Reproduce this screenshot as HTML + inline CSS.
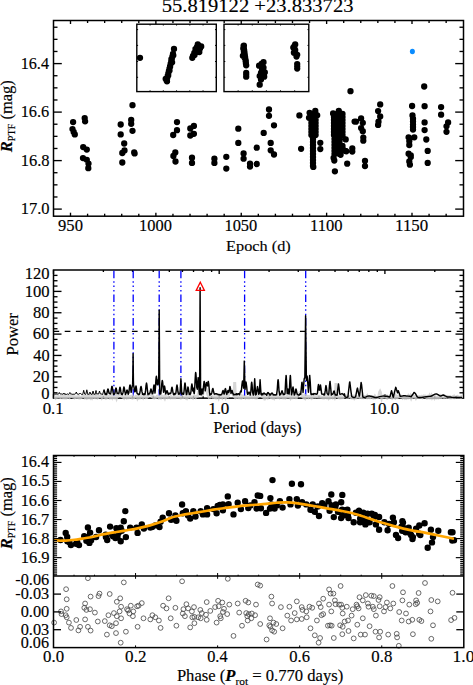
<!DOCTYPE html>
<html><head><meta charset="utf-8"><style>
html,body{margin:0;padding:0;background:#fff;}
svg{display:block;}
text{font-family:"Liberation Serif", serif;fill:#000;stroke:#000;stroke-width:0.15px;}
</style></head><body>
<svg width="473" height="685" viewBox="0 0 473 685">
<rect width="473" height="685" fill="#fff"/>
<path d="M69.95 122.1a3.15 3.15 0 1 0 6.3 0a3.15 3.15 0 1 0 -6.3 0M69.35 129.1a3.15 3.15 0 1 0 6.3 0a3.15 3.15 0 1 0 -6.3 0M70.55 131.9a3.15 3.15 0 1 0 6.3 0a3.15 3.15 0 1 0 -6.3 0M71.65 134.4a3.15 3.15 0 1 0 6.3 0a3.15 3.15 0 1 0 -6.3 0M81.55 118.1a3.15 3.15 0 1 0 6.3 0a3.15 3.15 0 1 0 -6.3 0M81.95 121.3a3.15 3.15 0 1 0 6.3 0a3.15 3.15 0 1 0 -6.3 0M80.05 147.1a3.15 3.15 0 1 0 6.3 0a3.15 3.15 0 1 0 -6.3 0M83.65 149.6a3.15 3.15 0 1 0 6.3 0a3.15 3.15 0 1 0 -6.3 0M79.85 158.1a3.15 3.15 0 1 0 6.3 0a3.15 3.15 0 1 0 -6.3 0M83.65 159.8a3.15 3.15 0 1 0 6.3 0a3.15 3.15 0 1 0 -6.3 0M85.35 163.6a3.15 3.15 0 1 0 6.3 0a3.15 3.15 0 1 0 -6.3 0M85.15 168.2a3.15 3.15 0 1 0 6.3 0a3.15 3.15 0 1 0 -6.3 0M117.55 124.5a3.15 3.15 0 1 0 6.3 0a3.15 3.15 0 1 0 -6.3 0M117.55 134.4a3.15 3.15 0 1 0 6.3 0a3.15 3.15 0 1 0 -6.3 0M121.05 143.5a3.15 3.15 0 1 0 6.3 0a3.15 3.15 0 1 0 -6.3 0M121.35 150.5a3.15 3.15 0 1 0 6.3 0a3.15 3.15 0 1 0 -6.3 0M119.15 153a3.15 3.15 0 1 0 6.3 0a3.15 3.15 0 1 0 -6.3 0M119.15 162.5a3.15 3.15 0 1 0 6.3 0a3.15 3.15 0 1 0 -6.3 0M129.35 105.2a3.15 3.15 0 1 0 6.3 0a3.15 3.15 0 1 0 -6.3 0M128.05 120a3.15 3.15 0 1 0 6.3 0a3.15 3.15 0 1 0 -6.3 0M128.05 123.8a3.15 3.15 0 1 0 6.3 0a3.15 3.15 0 1 0 -6.3 0M129.35 130.8a3.15 3.15 0 1 0 6.3 0a3.15 3.15 0 1 0 -6.3 0M131.05 152.4a3.15 3.15 0 1 0 6.3 0a3.15 3.15 0 1 0 -6.3 0M131.45 153.4a3.15 3.15 0 1 0 6.3 0a3.15 3.15 0 1 0 -6.3 0M173.85 122.1a3.15 3.15 0 1 0 6.3 0a3.15 3.15 0 1 0 -6.3 0M173.85 130.2a3.15 3.15 0 1 0 6.3 0a3.15 3.15 0 1 0 -6.3 0M170.05 135a3.15 3.15 0 1 0 6.3 0a3.15 3.15 0 1 0 -6.3 0M172.15 152.4a3.15 3.15 0 1 0 6.3 0a3.15 3.15 0 1 0 -6.3 0M170.25 156a3.15 3.15 0 1 0 6.3 0a3.15 3.15 0 1 0 -6.3 0M172.35 161.5a3.15 3.15 0 1 0 6.3 0a3.15 3.15 0 1 0 -6.3 0M190.75 125.9a3.15 3.15 0 1 0 6.3 0a3.15 3.15 0 1 0 -6.3 0M187.15 128.5a3.15 3.15 0 1 0 6.3 0a3.15 3.15 0 1 0 -6.3 0M190.75 133.8a3.15 3.15 0 1 0 6.3 0a3.15 3.15 0 1 0 -6.3 0M187.15 135.5a3.15 3.15 0 1 0 6.3 0a3.15 3.15 0 1 0 -6.3 0M188.85 157.7a3.15 3.15 0 1 0 6.3 0a3.15 3.15 0 1 0 -6.3 0M188.85 162.9a3.15 3.15 0 1 0 6.3 0a3.15 3.15 0 1 0 -6.3 0M211.25 158.7a3.15 3.15 0 1 0 6.3 0a3.15 3.15 0 1 0 -6.3 0M211.25 162.9a3.15 3.15 0 1 0 6.3 0a3.15 3.15 0 1 0 -6.3 0M223.15 156.8a3.15 3.15 0 1 0 6.3 0a3.15 3.15 0 1 0 -6.3 0M223.15 168.6a3.15 3.15 0 1 0 6.3 0a3.15 3.15 0 1 0 -6.3 0M235.15 128.7a3.15 3.15 0 1 0 6.3 0a3.15 3.15 0 1 0 -6.3 0M235.15 142.9a3.15 3.15 0 1 0 6.3 0a3.15 3.15 0 1 0 -6.3 0M240.45 153.4a3.15 3.15 0 1 0 6.3 0a3.15 3.15 0 1 0 -6.3 0M240.45 158.7a3.15 3.15 0 1 0 6.3 0a3.15 3.15 0 1 0 -6.3 0M246.85 163.6a3.15 3.15 0 1 0 6.3 0a3.15 3.15 0 1 0 -6.3 0M246.85 166.5a3.15 3.15 0 1 0 6.3 0a3.15 3.15 0 1 0 -6.3 0M253.55 147.7a3.15 3.15 0 1 0 6.3 0a3.15 3.15 0 1 0 -6.3 0M253.55 164a3.15 3.15 0 1 0 6.3 0a3.15 3.15 0 1 0 -6.3 0M260.55 132.9a3.15 3.15 0 1 0 6.3 0a3.15 3.15 0 1 0 -6.3 0M265.85 109.5a3.15 3.15 0 1 0 6.3 0a3.15 3.15 0 1 0 -6.3 0M265.85 115.8a3.15 3.15 0 1 0 6.3 0a3.15 3.15 0 1 0 -6.3 0M270.85 125.3a3.15 3.15 0 1 0 6.3 0a3.15 3.15 0 1 0 -6.3 0M267.55 142.9a3.15 3.15 0 1 0 6.3 0a3.15 3.15 0 1 0 -6.3 0M267.55 150.3a3.15 3.15 0 1 0 6.3 0a3.15 3.15 0 1 0 -6.3 0M270.85 154.5a3.15 3.15 0 1 0 6.3 0a3.15 3.15 0 1 0 -6.3 0M296.25 115.4a3.15 3.15 0 1 0 6.3 0a3.15 3.15 0 1 0 -6.3 0M297.95 148.8a3.15 3.15 0 1 0 6.3 0a3.15 3.15 0 1 0 -6.3 0M306.45 112.8a3.15 3.15 0 1 0 6.3 0a3.15 3.15 0 1 0 -6.3 0M312.15 110.9a3.15 3.15 0 1 0 6.3 0a3.15 3.15 0 1 0 -6.3 0M305.85 117.8a3.15 3.15 0 1 0 6.3 0a3.15 3.15 0 1 0 -6.3 0M314.05 115.3a3.15 3.15 0 1 0 6.3 0a3.15 3.15 0 1 0 -6.3 0M317.15 142.8a3.15 3.15 0 1 0 6.3 0a3.15 3.15 0 1 0 -6.3 0M317.15 149.1a3.15 3.15 0 1 0 6.3 0a3.15 3.15 0 1 0 -6.3 0M310.15 166.9a3.15 3.15 0 1 0 6.3 0a3.15 3.15 0 1 0 -6.3 0M335.65 110.9a3.15 3.15 0 1 0 6.3 0a3.15 3.15 0 1 0 -6.3 0M329.95 113.4a3.15 3.15 0 1 0 6.3 0a3.15 3.15 0 1 0 -6.3 0M342.55 139.4a3.15 3.15 0 1 0 6.3 0a3.15 3.15 0 1 0 -6.3 0M342.55 151a3.15 3.15 0 1 0 6.3 0a3.15 3.15 0 1 0 -6.3 0M337.45 154.8a3.15 3.15 0 1 0 6.3 0a3.15 3.15 0 1 0 -6.3 0M331.15 160.5a3.15 3.15 0 1 0 6.3 0a3.15 3.15 0 1 0 -6.3 0M330.45 158a3.15 3.15 0 1 0 6.3 0a3.15 3.15 0 1 0 -6.3 0M331.75 171.3a3.15 3.15 0 1 0 6.3 0a3.15 3.15 0 1 0 -6.3 0M344.05 163.7a3.15 3.15 0 1 0 6.3 0a3.15 3.15 0 1 0 -6.3 0M349.15 148.5a3.15 3.15 0 1 0 6.3 0a3.15 3.15 0 1 0 -6.3 0M349.15 151.6a3.15 3.15 0 1 0 6.3 0a3.15 3.15 0 1 0 -6.3 0M351.45 121.6a3.15 3.15 0 1 0 6.3 0a3.15 3.15 0 1 0 -6.3 0M343.15 151.3a3.15 3.15 0 1 0 6.3 0a3.15 3.15 0 1 0 -6.3 0M347.35 91.2a3.15 3.15 0 1 0 6.3 0a3.15 3.15 0 1 0 -6.3 0M352.75 121.7a3.15 3.15 0 1 0 6.3 0a3.15 3.15 0 1 0 -6.3 0M357.95 118.5a3.15 3.15 0 1 0 6.3 0a3.15 3.15 0 1 0 -6.3 0M359.65 122.8a3.15 3.15 0 1 0 6.3 0a3.15 3.15 0 1 0 -6.3 0M357.95 128.1a3.15 3.15 0 1 0 6.3 0a3.15 3.15 0 1 0 -6.3 0M359.65 131.2a3.15 3.15 0 1 0 6.3 0a3.15 3.15 0 1 0 -6.3 0M360.15 137.6a3.15 3.15 0 1 0 6.3 0a3.15 3.15 0 1 0 -6.3 0M360.15 140.7a3.15 3.15 0 1 0 6.3 0a3.15 3.15 0 1 0 -6.3 0M361.85 160.8a3.15 3.15 0 1 0 6.3 0a3.15 3.15 0 1 0 -6.3 0M361.85 166.1a3.15 3.15 0 1 0 6.3 0a3.15 3.15 0 1 0 -6.3 0M377.05 104.4a3.15 3.15 0 1 0 6.3 0a3.15 3.15 0 1 0 -6.3 0M374.95 111.1a3.15 3.15 0 1 0 6.3 0a3.15 3.15 0 1 0 -6.3 0M377.05 116.4a3.15 3.15 0 1 0 6.3 0a3.15 3.15 0 1 0 -6.3 0M375.35 121.7a3.15 3.15 0 1 0 6.3 0a3.15 3.15 0 1 0 -6.3 0M374.95 124.9a3.15 3.15 0 1 0 6.3 0a3.15 3.15 0 1 0 -6.3 0M408.95 106a3.15 3.15 0 1 0 6.3 0a3.15 3.15 0 1 0 -6.3 0M409.35 115.4a3.15 3.15 0 1 0 6.3 0a3.15 3.15 0 1 0 -6.3 0M409.85 118.7a3.15 3.15 0 1 0 6.3 0a3.15 3.15 0 1 0 -6.3 0M409.85 121.5a3.15 3.15 0 1 0 6.3 0a3.15 3.15 0 1 0 -6.3 0M409.85 124.5a3.15 3.15 0 1 0 6.3 0a3.15 3.15 0 1 0 -6.3 0M409.85 127a3.15 3.15 0 1 0 6.3 0a3.15 3.15 0 1 0 -6.3 0M409.85 129.6a3.15 3.15 0 1 0 6.3 0a3.15 3.15 0 1 0 -6.3 0M411.15 137.3a3.15 3.15 0 1 0 6.3 0a3.15 3.15 0 1 0 -6.3 0M405.45 137.3a3.15 3.15 0 1 0 6.3 0a3.15 3.15 0 1 0 -6.3 0M406.15 141a3.15 3.15 0 1 0 6.3 0a3.15 3.15 0 1 0 -6.3 0M406.15 145a3.15 3.15 0 1 0 6.3 0a3.15 3.15 0 1 0 -6.3 0M405.45 153.7a3.15 3.15 0 1 0 6.3 0a3.15 3.15 0 1 0 -6.3 0M407.65 157a3.15 3.15 0 1 0 6.3 0a3.15 3.15 0 1 0 -6.3 0M406.75 164.7a3.15 3.15 0 1 0 6.3 0a3.15 3.15 0 1 0 -6.3 0M407.65 155.5a3.15 3.15 0 1 0 6.3 0a3.15 3.15 0 1 0 -6.3 0M406.15 161.4a3.15 3.15 0 1 0 6.3 0a3.15 3.15 0 1 0 -6.3 0M421.05 86.5a3.15 3.15 0 1 0 6.3 0a3.15 3.15 0 1 0 -6.3 0M421.45 106.2a3.15 3.15 0 1 0 6.3 0a3.15 3.15 0 1 0 -6.3 0M421.45 122.4a3.15 3.15 0 1 0 6.3 0a3.15 3.15 0 1 0 -6.3 0M421.45 130.1a3.15 3.15 0 1 0 6.3 0a3.15 3.15 0 1 0 -6.3 0M423.15 139.5a3.15 3.15 0 1 0 6.3 0a3.15 3.15 0 1 0 -6.3 0M424.55 150.9a3.15 3.15 0 1 0 6.3 0a3.15 3.15 0 1 0 -6.3 0M424.55 162.9a3.15 3.15 0 1 0 6.3 0a3.15 3.15 0 1 0 -6.3 0M437.95 107.1a3.15 3.15 0 1 0 6.3 0a3.15 3.15 0 1 0 -6.3 0M437.95 114.7a3.15 3.15 0 1 0 6.3 0a3.15 3.15 0 1 0 -6.3 0M444.95 122.4a3.15 3.15 0 1 0 6.3 0a3.15 3.15 0 1 0 -6.3 0M443.35 126.3a3.15 3.15 0 1 0 6.3 0a3.15 3.15 0 1 0 -6.3 0M443.35 131.8a3.15 3.15 0 1 0 6.3 0a3.15 3.15 0 1 0 -6.3 0M308.25 114a3.15 3.15 0 1 0 6.3 0a3.15 3.15 0 1 0 -6.3 0M308.25 117a3.15 3.15 0 1 0 6.3 0a3.15 3.15 0 1 0 -6.3 0M308.25 120a3.15 3.15 0 1 0 6.3 0a3.15 3.15 0 1 0 -6.3 0M308.25 123a3.15 3.15 0 1 0 6.3 0a3.15 3.15 0 1 0 -6.3 0M308.25 126a3.15 3.15 0 1 0 6.3 0a3.15 3.15 0 1 0 -6.3 0M308.25 129a3.15 3.15 0 1 0 6.3 0a3.15 3.15 0 1 0 -6.3 0M308.25 132a3.15 3.15 0 1 0 6.3 0a3.15 3.15 0 1 0 -6.3 0M308.25 135a3.15 3.15 0 1 0 6.3 0a3.15 3.15 0 1 0 -6.3 0M312.45 114a3.15 3.15 0 1 0 6.3 0a3.15 3.15 0 1 0 -6.3 0M312.45 117a3.15 3.15 0 1 0 6.3 0a3.15 3.15 0 1 0 -6.3 0M312.45 120a3.15 3.15 0 1 0 6.3 0a3.15 3.15 0 1 0 -6.3 0M312.45 123a3.15 3.15 0 1 0 6.3 0a3.15 3.15 0 1 0 -6.3 0M312.45 126a3.15 3.15 0 1 0 6.3 0a3.15 3.15 0 1 0 -6.3 0M312.45 129a3.15 3.15 0 1 0 6.3 0a3.15 3.15 0 1 0 -6.3 0M312.45 132a3.15 3.15 0 1 0 6.3 0a3.15 3.15 0 1 0 -6.3 0M312.45 135a3.15 3.15 0 1 0 6.3 0a3.15 3.15 0 1 0 -6.3 0M309.85 139a3.15 3.15 0 1 0 6.3 0a3.15 3.15 0 1 0 -6.3 0M309.85 142a3.15 3.15 0 1 0 6.3 0a3.15 3.15 0 1 0 -6.3 0M309.85 145a3.15 3.15 0 1 0 6.3 0a3.15 3.15 0 1 0 -6.3 0M309.85 148a3.15 3.15 0 1 0 6.3 0a3.15 3.15 0 1 0 -6.3 0M309.85 151a3.15 3.15 0 1 0 6.3 0a3.15 3.15 0 1 0 -6.3 0M309.85 154a3.15 3.15 0 1 0 6.3 0a3.15 3.15 0 1 0 -6.3 0M309.85 157a3.15 3.15 0 1 0 6.3 0a3.15 3.15 0 1 0 -6.3 0M309.85 160a3.15 3.15 0 1 0 6.3 0a3.15 3.15 0 1 0 -6.3 0M309.85 163a3.15 3.15 0 1 0 6.3 0a3.15 3.15 0 1 0 -6.3 0M309.85 166a3.15 3.15 0 1 0 6.3 0a3.15 3.15 0 1 0 -6.3 0M330.85 114a3.15 3.15 0 1 0 6.3 0a3.15 3.15 0 1 0 -6.3 0M330.85 117a3.15 3.15 0 1 0 6.3 0a3.15 3.15 0 1 0 -6.3 0M330.85 120a3.15 3.15 0 1 0 6.3 0a3.15 3.15 0 1 0 -6.3 0M330.85 123a3.15 3.15 0 1 0 6.3 0a3.15 3.15 0 1 0 -6.3 0M330.85 126a3.15 3.15 0 1 0 6.3 0a3.15 3.15 0 1 0 -6.3 0M330.85 129a3.15 3.15 0 1 0 6.3 0a3.15 3.15 0 1 0 -6.3 0M330.85 132a3.15 3.15 0 1 0 6.3 0a3.15 3.15 0 1 0 -6.3 0M330.85 135a3.15 3.15 0 1 0 6.3 0a3.15 3.15 0 1 0 -6.3 0M335.35 114a3.15 3.15 0 1 0 6.3 0a3.15 3.15 0 1 0 -6.3 0M335.35 117a3.15 3.15 0 1 0 6.3 0a3.15 3.15 0 1 0 -6.3 0M335.35 120a3.15 3.15 0 1 0 6.3 0a3.15 3.15 0 1 0 -6.3 0M335.35 123a3.15 3.15 0 1 0 6.3 0a3.15 3.15 0 1 0 -6.3 0M335.35 126a3.15 3.15 0 1 0 6.3 0a3.15 3.15 0 1 0 -6.3 0M335.35 129a3.15 3.15 0 1 0 6.3 0a3.15 3.15 0 1 0 -6.3 0M335.35 132a3.15 3.15 0 1 0 6.3 0a3.15 3.15 0 1 0 -6.3 0M335.35 135a3.15 3.15 0 1 0 6.3 0a3.15 3.15 0 1 0 -6.3 0M339.35 114a3.15 3.15 0 1 0 6.3 0a3.15 3.15 0 1 0 -6.3 0M339.35 117a3.15 3.15 0 1 0 6.3 0a3.15 3.15 0 1 0 -6.3 0M339.35 120a3.15 3.15 0 1 0 6.3 0a3.15 3.15 0 1 0 -6.3 0M339.35 123a3.15 3.15 0 1 0 6.3 0a3.15 3.15 0 1 0 -6.3 0M339.35 126a3.15 3.15 0 1 0 6.3 0a3.15 3.15 0 1 0 -6.3 0M339.35 129a3.15 3.15 0 1 0 6.3 0a3.15 3.15 0 1 0 -6.3 0M339.35 132a3.15 3.15 0 1 0 6.3 0a3.15 3.15 0 1 0 -6.3 0M339.35 135a3.15 3.15 0 1 0 6.3 0a3.15 3.15 0 1 0 -6.3 0M331.35 139a3.15 3.15 0 1 0 6.3 0a3.15 3.15 0 1 0 -6.3 0M331.35 142a3.15 3.15 0 1 0 6.3 0a3.15 3.15 0 1 0 -6.3 0M331.35 145a3.15 3.15 0 1 0 6.3 0a3.15 3.15 0 1 0 -6.3 0M331.35 148a3.15 3.15 0 1 0 6.3 0a3.15 3.15 0 1 0 -6.3 0M331.35 151a3.15 3.15 0 1 0 6.3 0a3.15 3.15 0 1 0 -6.3 0M331.35 154a3.15 3.15 0 1 0 6.3 0a3.15 3.15 0 1 0 -6.3 0M336.35 139a3.15 3.15 0 1 0 6.3 0a3.15 3.15 0 1 0 -6.3 0M336.35 142a3.15 3.15 0 1 0 6.3 0a3.15 3.15 0 1 0 -6.3 0M336.35 145a3.15 3.15 0 1 0 6.3 0a3.15 3.15 0 1 0 -6.3 0M336.35 148a3.15 3.15 0 1 0 6.3 0a3.15 3.15 0 1 0 -6.3 0M336.35 151a3.15 3.15 0 1 0 6.3 0a3.15 3.15 0 1 0 -6.3 0M336.35 154a3.15 3.15 0 1 0 6.3 0a3.15 3.15 0 1 0 -6.3 0M339.35 146a3.15 3.15 0 1 0 6.3 0a3.15 3.15 0 1 0 -6.3 0M340.35 150a3.15 3.15 0 1 0 6.3 0a3.15 3.15 0 1 0 -6.3 0" fill="#000"/>
<rect x="136.8" y="24.2" width="79.5" height="67.4" fill="#fff" stroke="none"/>
<rect x="224.0" y="24.2" width="84.8" height="67.4" fill="#fff" stroke="none"/>
<rect x="136.8" y="24.2" width="79.5" height="67.4" fill="none" stroke="#000" stroke-width="1.4"/>
<line x1="136.8" y1="29.6" x2="138.1" y2="29.6" stroke="#000" stroke-width="1.0" />
<line x1="216.3" y1="29.6" x2="215" y2="29.6" stroke="#000" stroke-width="1.0" />
<line x1="136.8" y1="45.4" x2="138.1" y2="45.4" stroke="#000" stroke-width="1.0" />
<line x1="216.3" y1="45.4" x2="215" y2="45.4" stroke="#000" stroke-width="1.0" />
<line x1="136.8" y1="61.5" x2="138.1" y2="61.5" stroke="#000" stroke-width="1.0" />
<line x1="216.3" y1="61.5" x2="215" y2="61.5" stroke="#000" stroke-width="1.0" />
<line x1="136.8" y1="77.3" x2="138.1" y2="77.3" stroke="#000" stroke-width="1.0" />
<line x1="216.3" y1="77.3" x2="215" y2="77.3" stroke="#000" stroke-width="1.0" />
<line x1="150.05" y1="24.2" x2="150.05" y2="25.5" stroke="#000" stroke-width="1.0" />
<line x1="150.05" y1="91.6" x2="150.05" y2="90.3" stroke="#000" stroke-width="1.0" />
<line x1="163.3" y1="24.2" x2="163.3" y2="25.5" stroke="#000" stroke-width="1.0" />
<line x1="163.3" y1="91.6" x2="163.3" y2="90.3" stroke="#000" stroke-width="1.0" />
<line x1="176.55" y1="24.2" x2="176.55" y2="25.5" stroke="#000" stroke-width="1.0" />
<line x1="176.55" y1="91.6" x2="176.55" y2="90.3" stroke="#000" stroke-width="1.0" />
<line x1="189.8" y1="24.2" x2="189.8" y2="25.5" stroke="#000" stroke-width="1.0" />
<line x1="189.8" y1="91.6" x2="189.8" y2="90.3" stroke="#000" stroke-width="1.0" />
<line x1="203.05" y1="24.2" x2="203.05" y2="25.5" stroke="#000" stroke-width="1.0" />
<line x1="203.05" y1="91.6" x2="203.05" y2="90.3" stroke="#000" stroke-width="1.0" />
<rect x="224" y="24.2" width="84.8" height="67.4" fill="none" stroke="#000" stroke-width="1.4"/>
<line x1="224" y1="29.6" x2="225.3" y2="29.6" stroke="#000" stroke-width="1.0" />
<line x1="308.8" y1="29.6" x2="307.5" y2="29.6" stroke="#000" stroke-width="1.0" />
<line x1="224" y1="45.4" x2="225.3" y2="45.4" stroke="#000" stroke-width="1.0" />
<line x1="308.8" y1="45.4" x2="307.5" y2="45.4" stroke="#000" stroke-width="1.0" />
<line x1="224" y1="61.5" x2="225.3" y2="61.5" stroke="#000" stroke-width="1.0" />
<line x1="308.8" y1="61.5" x2="307.5" y2="61.5" stroke="#000" stroke-width="1.0" />
<line x1="224" y1="77.3" x2="225.3" y2="77.3" stroke="#000" stroke-width="1.0" />
<line x1="308.8" y1="77.3" x2="307.5" y2="77.3" stroke="#000" stroke-width="1.0" />
<line x1="238.13" y1="24.2" x2="238.13" y2="25.5" stroke="#000" stroke-width="1.0" />
<line x1="238.13" y1="91.6" x2="238.13" y2="90.3" stroke="#000" stroke-width="1.0" />
<line x1="252.27" y1="24.2" x2="252.27" y2="25.5" stroke="#000" stroke-width="1.0" />
<line x1="252.27" y1="91.6" x2="252.27" y2="90.3" stroke="#000" stroke-width="1.0" />
<line x1="266.4" y1="24.2" x2="266.4" y2="25.5" stroke="#000" stroke-width="1.0" />
<line x1="266.4" y1="91.6" x2="266.4" y2="90.3" stroke="#000" stroke-width="1.0" />
<line x1="280.53" y1="24.2" x2="280.53" y2="25.5" stroke="#000" stroke-width="1.0" />
<line x1="280.53" y1="91.6" x2="280.53" y2="90.3" stroke="#000" stroke-width="1.0" />
<line x1="294.67" y1="24.2" x2="294.67" y2="25.5" stroke="#000" stroke-width="1.0" />
<line x1="294.67" y1="91.6" x2="294.67" y2="90.3" stroke="#000" stroke-width="1.0" />
<path d="M136.85 57.8a3.15 3.15 0 1 0 6.3 0a3.15 3.15 0 1 0 -6.3 0M170.85 49a3.15 3.15 0 1 0 6.3 0a3.15 3.15 0 1 0 -6.3 0M170.15 55.3a3.15 3.15 0 1 0 6.3 0a3.15 3.15 0 1 0 -6.3 0M168.25 59.1a3.15 3.15 0 1 0 6.3 0a3.15 3.15 0 1 0 -6.3 0M168.95 62.3a3.15 3.15 0 1 0 6.3 0a3.15 3.15 0 1 0 -6.3 0M166.95 66.7a3.15 3.15 0 1 0 6.3 0a3.15 3.15 0 1 0 -6.3 0M166.35 70.5a3.15 3.15 0 1 0 6.3 0a3.15 3.15 0 1 0 -6.3 0M165.05 75.6a3.15 3.15 0 1 0 6.3 0a3.15 3.15 0 1 0 -6.3 0M162.55 78.8a3.15 3.15 0 1 0 6.3 0a3.15 3.15 0 1 0 -6.3 0M163.85 81.3a3.15 3.15 0 1 0 6.3 0a3.15 3.15 0 1 0 -6.3 0M194.65 44.5a3.15 3.15 0 1 0 6.3 0a3.15 3.15 0 1 0 -6.3 0M198.05 46.4a3.15 3.15 0 1 0 6.3 0a3.15 3.15 0 1 0 -6.3 0M192.35 49a3.15 3.15 0 1 0 6.3 0a3.15 3.15 0 1 0 -6.3 0M196.15 52.1a3.15 3.15 0 1 0 6.3 0a3.15 3.15 0 1 0 -6.3 0M191.15 52.8a3.15 3.15 0 1 0 6.3 0a3.15 3.15 0 1 0 -6.3 0M189.15 57.8a3.15 3.15 0 1 0 6.3 0a3.15 3.15 0 1 0 -6.3 0M169.85 54a3.15 3.15 0 1 0 6.3 0a3.15 3.15 0 1 0 -6.3 0M169.27 56.41a3.15 3.15 0 1 0 6.3 0a3.15 3.15 0 1 0 -6.3 0M168.69 58.82a3.15 3.15 0 1 0 6.3 0a3.15 3.15 0 1 0 -6.3 0M168.1 61.23a3.15 3.15 0 1 0 6.3 0a3.15 3.15 0 1 0 -6.3 0M167.52 63.64a3.15 3.15 0 1 0 6.3 0a3.15 3.15 0 1 0 -6.3 0M166.94 66.05a3.15 3.15 0 1 0 6.3 0a3.15 3.15 0 1 0 -6.3 0M166.36 68.45a3.15 3.15 0 1 0 6.3 0a3.15 3.15 0 1 0 -6.3 0M165.78 70.86a3.15 3.15 0 1 0 6.3 0a3.15 3.15 0 1 0 -6.3 0M165.2 73.27a3.15 3.15 0 1 0 6.3 0a3.15 3.15 0 1 0 -6.3 0M164.61 75.68a3.15 3.15 0 1 0 6.3 0a3.15 3.15 0 1 0 -6.3 0M164.03 78.09a3.15 3.15 0 1 0 6.3 0a3.15 3.15 0 1 0 -6.3 0M163.45 80.5a3.15 3.15 0 1 0 6.3 0a3.15 3.15 0 1 0 -6.3 0M193.85 47a3.15 3.15 0 1 0 6.3 0a3.15 3.15 0 1 0 -6.3 0M194.85 50a3.15 3.15 0 1 0 6.3 0a3.15 3.15 0 1 0 -6.3 0M192.85 51.5a3.15 3.15 0 1 0 6.3 0a3.15 3.15 0 1 0 -6.3 0M191.35 55a3.15 3.15 0 1 0 6.3 0a3.15 3.15 0 1 0 -6.3 0M196.85 48.5a3.15 3.15 0 1 0 6.3 0a3.15 3.15 0 1 0 -6.3 0M189.85 56a3.15 3.15 0 1 0 6.3 0a3.15 3.15 0 1 0 -6.3 0" fill="#000"/>
<path d="M240.75 45.7a3.15 3.15 0 1 0 6.3 0a3.15 3.15 0 1 0 -6.3 0M240.15 48.5a3.15 3.15 0 1 0 6.3 0a3.15 3.15 0 1 0 -6.3 0M240.75 51.4a3.15 3.15 0 1 0 6.3 0a3.15 3.15 0 1 0 -6.3 0M239.75 55.8a3.15 3.15 0 1 0 6.3 0a3.15 3.15 0 1 0 -6.3 0M241.65 58.1a3.15 3.15 0 1 0 6.3 0a3.15 3.15 0 1 0 -6.3 0M242.65 60.9a3.15 3.15 0 1 0 6.3 0a3.15 3.15 0 1 0 -6.3 0M243.05 65.3a3.15 3.15 0 1 0 6.3 0a3.15 3.15 0 1 0 -6.3 0M243.05 72.9a3.15 3.15 0 1 0 6.3 0a3.15 3.15 0 1 0 -6.3 0M243.05 76.7a3.15 3.15 0 1 0 6.3 0a3.15 3.15 0 1 0 -6.3 0M260.35 62.2a3.15 3.15 0 1 0 6.3 0a3.15 3.15 0 1 0 -6.3 0M255.95 65.7a3.15 3.15 0 1 0 6.3 0a3.15 3.15 0 1 0 -6.3 0M260.35 67.6a3.15 3.15 0 1 0 6.3 0a3.15 3.15 0 1 0 -6.3 0M258.85 70.4a3.15 3.15 0 1 0 6.3 0a3.15 3.15 0 1 0 -6.3 0M261.65 72.3a3.15 3.15 0 1 0 6.3 0a3.15 3.15 0 1 0 -6.3 0M256.55 76.1a3.15 3.15 0 1 0 6.3 0a3.15 3.15 0 1 0 -6.3 0M261.05 76.7a3.15 3.15 0 1 0 6.3 0a3.15 3.15 0 1 0 -6.3 0M256.55 84.7a3.15 3.15 0 1 0 6.3 0a3.15 3.15 0 1 0 -6.3 0M292.05 44.4a3.15 3.15 0 1 0 6.3 0a3.15 3.15 0 1 0 -6.3 0M290.15 47.6a3.15 3.15 0 1 0 6.3 0a3.15 3.15 0 1 0 -6.3 0M292.05 50.1a3.15 3.15 0 1 0 6.3 0a3.15 3.15 0 1 0 -6.3 0M290.75 52.7a3.15 3.15 0 1 0 6.3 0a3.15 3.15 0 1 0 -6.3 0M294.05 54.8a3.15 3.15 0 1 0 6.3 0a3.15 3.15 0 1 0 -6.3 0M294.05 64.1a3.15 3.15 0 1 0 6.3 0a3.15 3.15 0 1 0 -6.3 0M294.05 68.5a3.15 3.15 0 1 0 6.3 0a3.15 3.15 0 1 0 -6.3 0M240.45 46a3.15 3.15 0 1 0 6.3 0a3.15 3.15 0 1 0 -6.3 0M240.74 48.14a3.15 3.15 0 1 0 6.3 0a3.15 3.15 0 1 0 -6.3 0M241.03 50.29a3.15 3.15 0 1 0 6.3 0a3.15 3.15 0 1 0 -6.3 0M241.32 52.43a3.15 3.15 0 1 0 6.3 0a3.15 3.15 0 1 0 -6.3 0M241.61 54.58a3.15 3.15 0 1 0 6.3 0a3.15 3.15 0 1 0 -6.3 0M241.89 56.72a3.15 3.15 0 1 0 6.3 0a3.15 3.15 0 1 0 -6.3 0M242.18 58.87a3.15 3.15 0 1 0 6.3 0a3.15 3.15 0 1 0 -6.3 0M242.47 61.01a3.15 3.15 0 1 0 6.3 0a3.15 3.15 0 1 0 -6.3 0M242.76 63.16a3.15 3.15 0 1 0 6.3 0a3.15 3.15 0 1 0 -6.3 0M243.05 65.3a3.15 3.15 0 1 0 6.3 0a3.15 3.15 0 1 0 -6.3 0M243.05 74.8a3.15 3.15 0 1 0 6.3 0a3.15 3.15 0 1 0 -6.3 0M258.35 64a3.15 3.15 0 1 0 6.3 0a3.15 3.15 0 1 0 -6.3 0M258.85 68a3.15 3.15 0 1 0 6.3 0a3.15 3.15 0 1 0 -6.3 0M257.85 73a3.15 3.15 0 1 0 6.3 0a3.15 3.15 0 1 0 -6.3 0M259.35 75a3.15 3.15 0 1 0 6.3 0a3.15 3.15 0 1 0 -6.3 0M257.85 79.5a3.15 3.15 0 1 0 6.3 0a3.15 3.15 0 1 0 -6.3 0M291.35 46a3.15 3.15 0 1 0 6.3 0a3.15 3.15 0 1 0 -6.3 0M291.35 49a3.15 3.15 0 1 0 6.3 0a3.15 3.15 0 1 0 -6.3 0M291.65 51.5a3.15 3.15 0 1 0 6.3 0a3.15 3.15 0 1 0 -6.3 0M292.35 53.5a3.15 3.15 0 1 0 6.3 0a3.15 3.15 0 1 0 -6.3 0M294.05 66.3a3.15 3.15 0 1 0 6.3 0a3.15 3.15 0 1 0 -6.3 0M293.35 56.5a3.15 3.15 0 1 0 6.3 0a3.15 3.15 0 1 0 -6.3 0" fill="#000"/>
<ellipse cx="412.4" cy="51.55" rx="2.5" ry="2.75" fill="#0a8cff"/>
<rect x="53.5" y="20.5" width="410" height="195.7" fill="none" stroke="#000" stroke-width="1.5"/>
<line x1="70.5" y1="216.2" x2="70.5" y2="212.7" stroke="#000" stroke-width="1.35" />
<line x1="70.5" y1="20.5" x2="70.5" y2="24" stroke="#000" stroke-width="1.35" />
<line x1="87.58" y1="216.2" x2="87.58" y2="213.7" stroke="#000" stroke-width="1.35" />
<line x1="87.58" y1="20.5" x2="87.58" y2="23" stroke="#000" stroke-width="1.35" />
<line x1="104.65" y1="216.2" x2="104.65" y2="213.7" stroke="#000" stroke-width="1.35" />
<line x1="104.65" y1="20.5" x2="104.65" y2="23" stroke="#000" stroke-width="1.35" />
<line x1="121.72" y1="216.2" x2="121.72" y2="213.7" stroke="#000" stroke-width="1.35" />
<line x1="121.72" y1="20.5" x2="121.72" y2="23" stroke="#000" stroke-width="1.35" />
<line x1="138.8" y1="216.2" x2="138.8" y2="213.7" stroke="#000" stroke-width="1.35" />
<line x1="138.8" y1="20.5" x2="138.8" y2="23" stroke="#000" stroke-width="1.35" />
<line x1="155.88" y1="216.2" x2="155.88" y2="212.7" stroke="#000" stroke-width="1.35" />
<line x1="155.88" y1="20.5" x2="155.88" y2="24" stroke="#000" stroke-width="1.35" />
<line x1="172.95" y1="216.2" x2="172.95" y2="213.7" stroke="#000" stroke-width="1.35" />
<line x1="172.95" y1="20.5" x2="172.95" y2="23" stroke="#000" stroke-width="1.35" />
<line x1="190.03" y1="216.2" x2="190.03" y2="213.7" stroke="#000" stroke-width="1.35" />
<line x1="190.03" y1="20.5" x2="190.03" y2="23" stroke="#000" stroke-width="1.35" />
<line x1="207.1" y1="216.2" x2="207.1" y2="213.7" stroke="#000" stroke-width="1.35" />
<line x1="207.1" y1="20.5" x2="207.1" y2="23" stroke="#000" stroke-width="1.35" />
<line x1="224.18" y1="216.2" x2="224.18" y2="213.7" stroke="#000" stroke-width="1.35" />
<line x1="224.18" y1="20.5" x2="224.18" y2="23" stroke="#000" stroke-width="1.35" />
<line x1="241.25" y1="216.2" x2="241.25" y2="212.7" stroke="#000" stroke-width="1.35" />
<line x1="241.25" y1="20.5" x2="241.25" y2="24" stroke="#000" stroke-width="1.35" />
<line x1="258.32" y1="216.2" x2="258.32" y2="213.7" stroke="#000" stroke-width="1.35" />
<line x1="258.32" y1="20.5" x2="258.32" y2="23" stroke="#000" stroke-width="1.35" />
<line x1="275.4" y1="216.2" x2="275.4" y2="213.7" stroke="#000" stroke-width="1.35" />
<line x1="275.4" y1="20.5" x2="275.4" y2="23" stroke="#000" stroke-width="1.35" />
<line x1="292.48" y1="216.2" x2="292.48" y2="213.7" stroke="#000" stroke-width="1.35" />
<line x1="292.48" y1="20.5" x2="292.48" y2="23" stroke="#000" stroke-width="1.35" />
<line x1="309.55" y1="216.2" x2="309.55" y2="213.7" stroke="#000" stroke-width="1.35" />
<line x1="309.55" y1="20.5" x2="309.55" y2="23" stroke="#000" stroke-width="1.35" />
<line x1="326.62" y1="216.2" x2="326.62" y2="212.7" stroke="#000" stroke-width="1.35" />
<line x1="326.62" y1="20.5" x2="326.62" y2="24" stroke="#000" stroke-width="1.35" />
<line x1="343.7" y1="216.2" x2="343.7" y2="213.7" stroke="#000" stroke-width="1.35" />
<line x1="343.7" y1="20.5" x2="343.7" y2="23" stroke="#000" stroke-width="1.35" />
<line x1="360.77" y1="216.2" x2="360.77" y2="213.7" stroke="#000" stroke-width="1.35" />
<line x1="360.77" y1="20.5" x2="360.77" y2="23" stroke="#000" stroke-width="1.35" />
<line x1="377.85" y1="216.2" x2="377.85" y2="213.7" stroke="#000" stroke-width="1.35" />
<line x1="377.85" y1="20.5" x2="377.85" y2="23" stroke="#000" stroke-width="1.35" />
<line x1="394.93" y1="216.2" x2="394.93" y2="213.7" stroke="#000" stroke-width="1.35" />
<line x1="394.93" y1="20.5" x2="394.93" y2="23" stroke="#000" stroke-width="1.35" />
<line x1="412" y1="216.2" x2="412" y2="212.7" stroke="#000" stroke-width="1.35" />
<line x1="412" y1="20.5" x2="412" y2="24" stroke="#000" stroke-width="1.35" />
<line x1="429.07" y1="216.2" x2="429.07" y2="213.7" stroke="#000" stroke-width="1.35" />
<line x1="429.07" y1="20.5" x2="429.07" y2="23" stroke="#000" stroke-width="1.35" />
<line x1="446.15" y1="216.2" x2="446.15" y2="213.7" stroke="#000" stroke-width="1.35" />
<line x1="446.15" y1="20.5" x2="446.15" y2="23" stroke="#000" stroke-width="1.35" />
<line x1="53.5" y1="27.23" x2="57.5" y2="27.23" stroke="#000" stroke-width="1.35" />
<line x1="463.5" y1="27.23" x2="459.5" y2="27.23" stroke="#000" stroke-width="1.35" />
<line x1="53.5" y1="39.35" x2="57.5" y2="39.35" stroke="#000" stroke-width="1.35" />
<line x1="463.5" y1="39.35" x2="459.5" y2="39.35" stroke="#000" stroke-width="1.35" />
<line x1="53.5" y1="51.47" x2="57.5" y2="51.47" stroke="#000" stroke-width="1.35" />
<line x1="463.5" y1="51.47" x2="459.5" y2="51.47" stroke="#000" stroke-width="1.35" />
<line x1="53.5" y1="63.6" x2="61.8" y2="63.6" stroke="#000" stroke-width="1.35" />
<line x1="463.5" y1="63.6" x2="455.2" y2="63.6" stroke="#000" stroke-width="1.35" />
<line x1="53.5" y1="75.73" x2="57.5" y2="75.73" stroke="#000" stroke-width="1.35" />
<line x1="463.5" y1="75.73" x2="459.5" y2="75.73" stroke="#000" stroke-width="1.35" />
<line x1="53.5" y1="87.85" x2="57.5" y2="87.85" stroke="#000" stroke-width="1.35" />
<line x1="463.5" y1="87.85" x2="459.5" y2="87.85" stroke="#000" stroke-width="1.35" />
<line x1="53.5" y1="99.98" x2="57.5" y2="99.98" stroke="#000" stroke-width="1.35" />
<line x1="463.5" y1="99.98" x2="459.5" y2="99.98" stroke="#000" stroke-width="1.35" />
<line x1="53.5" y1="112.1" x2="61.8" y2="112.1" stroke="#000" stroke-width="1.35" />
<line x1="463.5" y1="112.1" x2="455.2" y2="112.1" stroke="#000" stroke-width="1.35" />
<line x1="53.5" y1="124.22" x2="57.5" y2="124.22" stroke="#000" stroke-width="1.35" />
<line x1="463.5" y1="124.22" x2="459.5" y2="124.22" stroke="#000" stroke-width="1.35" />
<line x1="53.5" y1="136.35" x2="57.5" y2="136.35" stroke="#000" stroke-width="1.35" />
<line x1="463.5" y1="136.35" x2="459.5" y2="136.35" stroke="#000" stroke-width="1.35" />
<line x1="53.5" y1="148.48" x2="57.5" y2="148.48" stroke="#000" stroke-width="1.35" />
<line x1="463.5" y1="148.48" x2="459.5" y2="148.48" stroke="#000" stroke-width="1.35" />
<line x1="53.5" y1="160.6" x2="61.8" y2="160.6" stroke="#000" stroke-width="1.35" />
<line x1="463.5" y1="160.6" x2="455.2" y2="160.6" stroke="#000" stroke-width="1.35" />
<line x1="53.5" y1="172.72" x2="57.5" y2="172.72" stroke="#000" stroke-width="1.35" />
<line x1="463.5" y1="172.72" x2="459.5" y2="172.72" stroke="#000" stroke-width="1.35" />
<line x1="53.5" y1="184.85" x2="57.5" y2="184.85" stroke="#000" stroke-width="1.35" />
<line x1="463.5" y1="184.85" x2="459.5" y2="184.85" stroke="#000" stroke-width="1.35" />
<line x1="53.5" y1="196.98" x2="57.5" y2="196.98" stroke="#000" stroke-width="1.35" />
<line x1="463.5" y1="196.98" x2="459.5" y2="196.98" stroke="#000" stroke-width="1.35" />
<line x1="53.5" y1="209.1" x2="61.8" y2="209.1" stroke="#000" stroke-width="1.35" />
<line x1="463.5" y1="209.1" x2="455.2" y2="209.1" stroke="#000" stroke-width="1.35" />
<rect x="53.5" y="270" width="410" height="128.15" fill="none" stroke="#000" stroke-width="1.5"/>
<line x1="53.5" y1="392.81" x2="57.5" y2="392.81" stroke="#000" stroke-width="1.35" />
<line x1="463.5" y1="392.81" x2="459.5" y2="392.81" stroke="#000" stroke-width="1.35" />
<line x1="53.5" y1="387.47" x2="57.5" y2="387.47" stroke="#000" stroke-width="1.35" />
<line x1="463.5" y1="387.47" x2="459.5" y2="387.47" stroke="#000" stroke-width="1.35" />
<line x1="53.5" y1="382.14" x2="57.5" y2="382.14" stroke="#000" stroke-width="1.35" />
<line x1="463.5" y1="382.14" x2="459.5" y2="382.14" stroke="#000" stroke-width="1.35" />
<line x1="53.5" y1="376.8" x2="61.5" y2="376.8" stroke="#000" stroke-width="1.35" />
<line x1="463.5" y1="376.8" x2="455.5" y2="376.8" stroke="#000" stroke-width="1.35" />
<line x1="53.5" y1="371.46" x2="57.5" y2="371.46" stroke="#000" stroke-width="1.35" />
<line x1="463.5" y1="371.46" x2="459.5" y2="371.46" stroke="#000" stroke-width="1.35" />
<line x1="53.5" y1="366.12" x2="57.5" y2="366.12" stroke="#000" stroke-width="1.35" />
<line x1="463.5" y1="366.12" x2="459.5" y2="366.12" stroke="#000" stroke-width="1.35" />
<line x1="53.5" y1="360.79" x2="57.5" y2="360.79" stroke="#000" stroke-width="1.35" />
<line x1="463.5" y1="360.79" x2="459.5" y2="360.79" stroke="#000" stroke-width="1.35" />
<line x1="53.5" y1="355.45" x2="61.5" y2="355.45" stroke="#000" stroke-width="1.35" />
<line x1="463.5" y1="355.45" x2="455.5" y2="355.45" stroke="#000" stroke-width="1.35" />
<line x1="53.5" y1="350.11" x2="57.5" y2="350.11" stroke="#000" stroke-width="1.35" />
<line x1="463.5" y1="350.11" x2="459.5" y2="350.11" stroke="#000" stroke-width="1.35" />
<line x1="53.5" y1="344.77" x2="57.5" y2="344.77" stroke="#000" stroke-width="1.35" />
<line x1="463.5" y1="344.77" x2="459.5" y2="344.77" stroke="#000" stroke-width="1.35" />
<line x1="53.5" y1="339.44" x2="57.5" y2="339.44" stroke="#000" stroke-width="1.35" />
<line x1="463.5" y1="339.44" x2="459.5" y2="339.44" stroke="#000" stroke-width="1.35" />
<line x1="53.5" y1="334.1" x2="61.5" y2="334.1" stroke="#000" stroke-width="1.35" />
<line x1="463.5" y1="334.1" x2="455.5" y2="334.1" stroke="#000" stroke-width="1.35" />
<line x1="53.5" y1="328.76" x2="57.5" y2="328.76" stroke="#000" stroke-width="1.35" />
<line x1="463.5" y1="328.76" x2="459.5" y2="328.76" stroke="#000" stroke-width="1.35" />
<line x1="53.5" y1="323.42" x2="57.5" y2="323.42" stroke="#000" stroke-width="1.35" />
<line x1="463.5" y1="323.42" x2="459.5" y2="323.42" stroke="#000" stroke-width="1.35" />
<line x1="53.5" y1="318.09" x2="57.5" y2="318.09" stroke="#000" stroke-width="1.35" />
<line x1="463.5" y1="318.09" x2="459.5" y2="318.09" stroke="#000" stroke-width="1.35" />
<line x1="53.5" y1="312.75" x2="61.5" y2="312.75" stroke="#000" stroke-width="1.35" />
<line x1="463.5" y1="312.75" x2="455.5" y2="312.75" stroke="#000" stroke-width="1.35" />
<line x1="53.5" y1="307.41" x2="57.5" y2="307.41" stroke="#000" stroke-width="1.35" />
<line x1="463.5" y1="307.41" x2="459.5" y2="307.41" stroke="#000" stroke-width="1.35" />
<line x1="53.5" y1="302.07" x2="57.5" y2="302.07" stroke="#000" stroke-width="1.35" />
<line x1="463.5" y1="302.07" x2="459.5" y2="302.07" stroke="#000" stroke-width="1.35" />
<line x1="53.5" y1="296.74" x2="57.5" y2="296.74" stroke="#000" stroke-width="1.35" />
<line x1="463.5" y1="296.74" x2="459.5" y2="296.74" stroke="#000" stroke-width="1.35" />
<line x1="53.5" y1="291.4" x2="61.5" y2="291.4" stroke="#000" stroke-width="1.35" />
<line x1="463.5" y1="291.4" x2="455.5" y2="291.4" stroke="#000" stroke-width="1.35" />
<line x1="53.5" y1="286.06" x2="57.5" y2="286.06" stroke="#000" stroke-width="1.35" />
<line x1="463.5" y1="286.06" x2="459.5" y2="286.06" stroke="#000" stroke-width="1.35" />
<line x1="53.5" y1="280.73" x2="57.5" y2="280.73" stroke="#000" stroke-width="1.35" />
<line x1="463.5" y1="280.73" x2="459.5" y2="280.73" stroke="#000" stroke-width="1.35" />
<line x1="53.5" y1="275.39" x2="57.5" y2="275.39" stroke="#000" stroke-width="1.35" />
<line x1="463.5" y1="275.39" x2="459.5" y2="275.39" stroke="#000" stroke-width="1.35" />
<line x1="53.5" y1="398.15" x2="53.5" y2="394.15" stroke="#000" stroke-width="1.35" />
<line x1="53.5" y1="270" x2="53.5" y2="274" stroke="#000" stroke-width="1.35" />
<line x1="103.38" y1="398.15" x2="103.38" y2="396.15" stroke="#000" stroke-width="1.35" />
<line x1="103.38" y1="270" x2="103.38" y2="272" stroke="#000" stroke-width="1.35" />
<line x1="132.56" y1="398.15" x2="132.56" y2="396.15" stroke="#000" stroke-width="1.35" />
<line x1="132.56" y1="270" x2="132.56" y2="272" stroke="#000" stroke-width="1.35" />
<line x1="153.26" y1="398.15" x2="153.26" y2="396.15" stroke="#000" stroke-width="1.35" />
<line x1="153.26" y1="270" x2="153.26" y2="272" stroke="#000" stroke-width="1.35" />
<line x1="169.32" y1="398.15" x2="169.32" y2="396.15" stroke="#000" stroke-width="1.35" />
<line x1="169.32" y1="270" x2="169.32" y2="272" stroke="#000" stroke-width="1.35" />
<line x1="182.44" y1="398.15" x2="182.44" y2="396.15" stroke="#000" stroke-width="1.35" />
<line x1="182.44" y1="270" x2="182.44" y2="272" stroke="#000" stroke-width="1.35" />
<line x1="193.53" y1="398.15" x2="193.53" y2="396.15" stroke="#000" stroke-width="1.35" />
<line x1="193.53" y1="270" x2="193.53" y2="272" stroke="#000" stroke-width="1.35" />
<line x1="203.14" y1="398.15" x2="203.14" y2="396.15" stroke="#000" stroke-width="1.35" />
<line x1="203.14" y1="270" x2="203.14" y2="272" stroke="#000" stroke-width="1.35" />
<line x1="211.62" y1="398.15" x2="211.62" y2="396.15" stroke="#000" stroke-width="1.35" />
<line x1="211.62" y1="270" x2="211.62" y2="272" stroke="#000" stroke-width="1.35" />
<line x1="219.2" y1="398.15" x2="219.2" y2="394.15" stroke="#000" stroke-width="1.35" />
<line x1="219.2" y1="270" x2="219.2" y2="274" stroke="#000" stroke-width="1.35" />
<line x1="269.08" y1="398.15" x2="269.08" y2="396.15" stroke="#000" stroke-width="1.35" />
<line x1="269.08" y1="270" x2="269.08" y2="272" stroke="#000" stroke-width="1.35" />
<line x1="298.26" y1="398.15" x2="298.26" y2="396.15" stroke="#000" stroke-width="1.35" />
<line x1="298.26" y1="270" x2="298.26" y2="272" stroke="#000" stroke-width="1.35" />
<line x1="318.96" y1="398.15" x2="318.96" y2="396.15" stroke="#000" stroke-width="1.35" />
<line x1="318.96" y1="270" x2="318.96" y2="272" stroke="#000" stroke-width="1.35" />
<line x1="335.02" y1="398.15" x2="335.02" y2="396.15" stroke="#000" stroke-width="1.35" />
<line x1="335.02" y1="270" x2="335.02" y2="272" stroke="#000" stroke-width="1.35" />
<line x1="348.14" y1="398.15" x2="348.14" y2="396.15" stroke="#000" stroke-width="1.35" />
<line x1="348.14" y1="270" x2="348.14" y2="272" stroke="#000" stroke-width="1.35" />
<line x1="359.23" y1="398.15" x2="359.23" y2="396.15" stroke="#000" stroke-width="1.35" />
<line x1="359.23" y1="270" x2="359.23" y2="272" stroke="#000" stroke-width="1.35" />
<line x1="368.84" y1="398.15" x2="368.84" y2="396.15" stroke="#000" stroke-width="1.35" />
<line x1="368.84" y1="270" x2="368.84" y2="272" stroke="#000" stroke-width="1.35" />
<line x1="377.32" y1="398.15" x2="377.32" y2="396.15" stroke="#000" stroke-width="1.35" />
<line x1="377.32" y1="270" x2="377.32" y2="272" stroke="#000" stroke-width="1.35" />
<line x1="384.9" y1="398.15" x2="384.9" y2="394.15" stroke="#000" stroke-width="1.35" />
<line x1="384.9" y1="270" x2="384.9" y2="274" stroke="#000" stroke-width="1.35" />
<line x1="434.78" y1="398.15" x2="434.78" y2="396.15" stroke="#000" stroke-width="1.35" />
<line x1="434.78" y1="270" x2="434.78" y2="272" stroke="#000" stroke-width="1.35" />
<line x1="113.9" y1="270.7" x2="113.9" y2="396" stroke="#0000ff" stroke-width="1.3" stroke-dasharray="7.6 2.9 1.5 2.9 1.5 2.9 1.5 2.9"/>
<line x1="133.2" y1="270.7" x2="133.2" y2="396" stroke="#0000ff" stroke-width="1.3" stroke-dasharray="7.6 2.9 1.5 2.9 1.5 2.9 1.5 2.9"/>
<line x1="159.2" y1="270.7" x2="159.2" y2="396" stroke="#0000ff" stroke-width="1.3" stroke-dasharray="7.6 2.9 1.5 2.9 1.5 2.9 1.5 2.9"/>
<line x1="180.9" y1="270.7" x2="180.9" y2="396" stroke="#0000ff" stroke-width="1.3" stroke-dasharray="7.6 2.9 1.5 2.9 1.5 2.9 1.5 2.9"/>
<line x1="244.6" y1="270.7" x2="244.6" y2="396" stroke="#0000ff" stroke-width="1.3" stroke-dasharray="7.6 2.9 1.5 2.9 1.5 2.9 1.5 2.9"/>
<line x1="305.7" y1="270.7" x2="305.7" y2="396" stroke="#0000ff" stroke-width="1.3" stroke-dasharray="7.6 2.9 1.5 2.9 1.5 2.9 1.5 2.9"/>
<polyline points="54.2,396.9 54.9,397.12 55.6,397.85 56.3,396.93 57,397.02 57.7,397.17 58.4,396.37 59.1,397.02 59.8,397.26 60.5,397.59 61.2,396.19 61.9,396.61 62.6,396.18 63.3,397.62 64,397.39 64.7,396.08 65.4,397.96 66.1,397.93 66.8,397.31 67.5,397.23 68.2,396.31 68.9,396.03 69.6,397.06 70.3,396.12 71,396.38 71.7,396.48 72.4,396.06 73.1,396.93 73.8,396.88 74.5,397.68 75.2,397.04 75.9,397.28 76.6,397 77.3,397.32 78,396.91 78.7,396.56 79.4,398 80.1,397.99 80.8,397.68 81.5,397.42 82.2,396.63 82.9,396.46 83.6,396.58 84.3,396.14 85,397.53 85.7,396.8 86.4,397.69 87.1,396.77 87.8,397.92 88.5,397.69 89.2,396 89.9,396.42 90.6,397.82 91.3,396.94 92,397.96 92.7,396.79 93.4,396.15 94.1,397.26 94.8,397.56 95.5,396.54 96.2,396.17 96.9,396.67 97.6,397.93 98.3,397.52 99,396.24 99.7,396.49 100.4,396.2 101.1,396.12 101.8,397.59 102.5,396.36 103.2,397.12 103.9,396.89 104.6,396.38 105.3,397.46 106,396.26 106.7,397.29 107.4,396.23 108.1,396.84 108.8,396.43 109.5,396.54 110.2,397.94 110.9,397.61 111.6,396.61 112.3,397.77 113,396.42 113.7,396.79 114.4,397.71 115.1,397.28 115.8,396.2 116.5,397.98 117,396.43 117.2,396.52 117.9,396.38 118.6,395.34 119.3,394.39 120,394 120.7,394.39 121.4,395.34 122.1,396.38 122.8,396.97 123,396.74 123.5,396.91 124.2,397.92 124.9,396.97 125.6,397.15 126.3,397.73 127,396.37 127.7,396.31 128.4,397.82 129.1,397.64 129.8,396.5 130.5,396.38 131.2,397.48 131.9,397.88 132.6,396.39 133.3,397.9 134,397.76 134.7,397.21 135.4,396.84 136.1,396.21 136.8,396.08 137.5,397.93 138.2,396.48 138.9,397.41 139.6,396.51 140.3,397.65 141,397.19 141.7,396.59 142.4,396.35 143.1,397.44 143.8,396.14 144.5,396.46 145.2,397.12 145.9,397.7 146.6,397.23 147,396.56 147.3,396.91 148,396.12 148.7,394.89 149.4,393.83 150,393.5 150.1,393.51 150.8,394.08 151.5,395.25 152.2,396.42 152.9,396.26 153,396.72 153.6,397.78 154.3,397.96 155,397.31 155.7,397.38 156.4,397.17 157.1,396.28 157.8,396.07 158.5,396.04 159.2,397.82 159.9,397.4 160.6,397.93 161.3,396.04 162,397.27 162.7,396.96 163.4,397.46 164.1,396.64 164.8,398 165.5,396.15 166.2,397.09 166.9,397.47 167.6,397.8 168.3,397.47 169,397.41 169.7,397.59 170.4,397.83 171.1,396.7 171.8,397.37 172.5,397.8 173.2,397.74 173.9,396.83 174.6,397.58 175.3,397.73 176,397.15 176.7,397.25 177.4,396.76 178.1,397.17 178.8,397.22 179.5,396.16 180.2,397.28 180.9,397.99 181.6,397.76 182.3,397.46 183,396.78 183.7,397.47 184.4,397.16 185.1,396.88 185.8,397.68 186.5,396.17 187.2,397.5 187.9,396.06 188.6,397.2 189.3,396.96 190,396.46 190.7,397.4 191.4,396.99 192.1,397.23 192.8,397.84 193.5,396.51 194.2,396.02 194.9,396.6 195.6,397.36 196.3,396.41 197,396.34 197.7,396.04 198.4,393.64 199.1,391.05 199.8,389.58 200,389.5 200.5,390 201.2,392.09 201.9,394.78 202.6,394.41 203,392.99 203.3,391.88 204,389.46 204.7,387.86 205.2,387.5 205.4,387.56 206.1,388.64 206.8,390.78 207.5,393.36 208.2,395.61 208.9,396.87 209.2,396.55 209.6,396.34 210.3,396.9 211,396.55 211.7,396.43 212.4,396.83 213.1,397.25 213.8,396.99 214.5,396.63 215.2,397.68 215.9,397.96 216.6,396.9 217.3,396.15 218,396.06 218.7,397.75 219.4,396.08 220.1,397.42 220.8,397.14 221.5,396.62 222.2,397.58 222.9,396.04 223.6,396.27 224.3,396.91 225,396.05 225.7,397.66 226.4,396.47 227,396.28 227.1,396.09 227.8,396.48 228.5,395.33 229.2,393.88 229.9,392.55 230.6,391.73 231,391.6 231.3,391.67 232,392.39 232.7,393.67 233.4,395.13 234.1,396.02 234.7,382 234.8,384.5 235,389.5 235.3,396.54 235.5,396.69 236.2,397.39 236.9,397.04 237.6,397.23 238.3,397.51 239,396.79 239.7,397.58 240.4,397.81 241.1,396.17 241.8,397.87 242.5,397.44 243.2,396.26 243.9,396.91 244.6,397.25 245.3,397.82 246,396.75 246.7,397.14 247.4,397.76 248.1,397.59 248.8,397.89 249.5,396.93 250.2,397.3 250.9,396.41 251.6,397.44 252.3,397.64 253,397.28 253.7,397.44 254.4,396.43 255.1,397.8 255.8,397.96 256.5,397.95 257,397.07 257.2,396.96 257.9,396.18 258.6,394.79 259.3,393.51 260,393 260.7,393.51 261.4,394.79 262.1,396.18 262.8,396.96 263,396.97 263.5,396.06 264.2,397.62 264.9,396.13 265.6,397.6 266.3,396.35 267,396.67 267.7,397.58 268.4,396.28 269.1,396.3 269.8,397.03 270.5,397.45 271.2,397.68 271.9,397.38 272.6,397.89 273.3,396.99 274,397.9 274.7,396.17 275.4,396.44 276.1,397.05 276.8,396.58 277.5,397.46 278.2,397.28 278.9,397.05 279.6,397.69 280.3,397.12 281,396.62 281.7,396.76 282.4,397.69 283.1,397.8 283.8,396.42 284.5,397.7 285.2,397.94 285.9,397.05 286.6,397.15 287.3,396.4 288,397.07 288.7,397.01 289.4,397.21 290.1,396.06 290.8,397.94 291.5,397.03 292.2,396.8 292.9,397.6 293.6,397.13 294.3,396.98 295,397.38 295.7,396.13 296.4,397.08 297,396.83 297.1,396.99 297.8,396.26 298.5,394.75 299.2,393.24 299.9,392.51 300,392.5 300.6,392.93 301.3,394.28 302,395.88 302.7,396.63 303,396.38 303.4,397.24 304.1,397.85 304.8,396.26 305.5,397.56 306.2,396.05 306.9,396.39 307.6,396.45 308.3,397.37 309,396.64 309.7,396.71 310.4,397.24 311.1,396.21 311.8,397.46 312.5,396.25 313.2,397.02 313.9,396.5 314.6,396.4 315.3,397.06 316,396.87 316.7,396.75 317.4,396.83 318.1,397.06 318.8,396.32 319.5,396.41 320.2,397.26 320.9,397.28 321.6,397.06 322.3,397.7 323,397.22 323.7,397.71 324.4,396.47 325.1,397.48 325.8,397.62 326.5,397.81 327.2,396.63 327.9,396.63 328.6,397.85 329.3,396.44 330,398 330.7,397.78 331.4,396.27 332.1,396.48 332.8,397.45 333.5,396.52 334.2,396.19 334.9,397.66 335.3,396.84 335.6,391 336,383 336.3,389 336.7,397 337,396.04 337.7,396.4 338.4,397.36 339.1,397.82 339.8,397.94 340.5,396.23 341.2,397.01 341.9,397.52 342.6,397.01 343.3,397.37 344,396.38 344.7,396.14 345.4,396.21 346.1,396.07 346.8,397.1 347.5,397.03 348.2,397.14 348.9,396.29 349.6,396.37 350.3,396.41 351,397.68 351.7,397.98 352.4,397.85 353.1,396.19 353.8,396.12 354.5,397.9 355.2,396.92 355.9,397.53 356.6,396.65 357.3,396.93 358,397.03 358.7,396.86 359.4,397.2 360.1,396.03 360.8,397.4 361.5,397.69 362.2,396.36 362.9,396.91 363.6,397.48 364.3,396.81 365,396.39 365.7,396.33 366.4,397.03 367.1,396.03 367.8,397.79 368.5,397.6 369.2,397.41 369.9,397.72 370.6,397.26 371.3,396.81 372,397.2 372.7,397.01 373.4,397.97 374.1,397.61 374.8,396.52 375.5,397.82 376.2,397.49 376.9,397.56 377.6,397.63 378.3,396.81 378.5,397.79 379,395.62 379.7,392.03 380,391.5 380.4,392.41 381.1,396.09 381.5,397.45 381.8,396.14 382.5,396.68 383.2,396.94 383.9,396.02 384.6,396.71 385.3,397.28 386,397.25 386.7,396.46 387.4,397.89 388.1,397.33 388.8,396.68 389.5,397.32 390.2,397.14 390.9,397.07 391.6,396.78 392.3,398 393,397.28 393.7,397.4 394.4,397.52 395.1,397.96 395.8,396.05 396.5,397.23 397.2,397.48 397.9,396.51 398.6,396.8 399.3,396.1 400,396.39 400.7,396.75 401.4,396.2 402.1,396.5 402.8,397.81 403.5,397.1 404.2,397.02 404.9,397.93 405.6,397.14 406.3,397.99 407,397.28 407.7,397.62 408.4,396.15 409.1,397.2 409.8,397.52 410.5,396.09 411.2,397.86 411.9,396.32 412.6,396.94 413.3,396.34 414,396.99 414.7,397.22 415.4,396.12 416.1,397.89 416.8,396.84 417.5,397.05 418.2,397.2 418.9,396.73 419.6,396.57 420.3,397.31 421,397.12 421.7,396.57 422.4,397.43 423.1,396.59 423.8,396.03 424.5,396.49 425.2,396.09 425.9,396.31 426.6,397.51 427.3,396.78 428,397.8 428.7,397.5 429.4,396.1 430.1,397.98 430.8,397.89 431.5,396.15 432.2,397.81 432.9,396.86 433.6,396.96 434.3,397.95 435,396.49 435.7,397.05 436.4,397.87 437.1,397.45 437.8,396.94 438.5,397.96 439.2,397.63 439.9,397.21 440.6,396.23 441.3,397.25 442,396.91 442.7,396.41 443.4,396.1 444.1,397.06 444.8,396.25 445.5,396.89 446.2,397.34 446.9,396.91 447.6,396.52 448.3,397.16 449,396.84 449.7,397.56 450.4,397.06 451.1,398 451.8,397.91 452.5,397.47 453.2,396.48 453.9,396.23 454.6,397.79 455.3,397.57 456,397.25 456.7,396.72 457.4,396.54 458.1,397.37 458.8,397.13 459.5,397.18 460.2,397.27 460.9,397.51 461.6,396.38 462.3,396.5" fill="none" stroke="#cccccc" stroke-width="3" stroke-opacity="0.8"/>
<polyline points="54.2,394.08 55.1,393.96 56,394.31 56.9,393.9 57.8,394.23 58.4,394.11 58.7,393.63 59.3,392.5 59.6,393.07 60.2,394.15 60.5,393.9 61.4,393.91 62.3,394.15 63.1,394.2 63.2,393.94 64,393 64.1,393.13 64.9,394.51 65,394.25 65.9,394.13 66.8,394.53 67.7,393.88 68.6,394.45 69,394.05 69.5,393.26 69.9,392.5 70.4,393.44 70.8,394.2 71.3,393.98 72.2,394.26 73.1,394.3 74,394.11 74.9,394.23 75.4,393.89 75.8,393.22 76.3,392 76.7,392.98 77.2,394.15 77.6,394.07 78.5,394.26 79.1,394.17 79.4,393.8 80,393 80.3,393.4 80.9,394.02 81.2,394.25 82.1,394.22 82.8,394.46 83,393.33 83.7,390.3 83.9,391.17 84.6,393.93 84.8,394.14 85.7,394.38 85.9,393.96 86.6,390.78 86.8,389.8 87.5,393.22 87.7,394.39 88.4,394.25 89.1,394.46 89.3,393.71 90,392 90.2,392.49 90.9,394.26 91.1,394.17 92,394.44 92.1,394.51 92.9,391.36 93,391 93.8,393.84 93.9,394.34 94.7,394.3 95.1,394.55 95.6,392.14 96,390.5 96.5,392.56 96.9,394.32 97.4,393.87 98.3,394.17 98.6,393.97 99.2,392.07 99.5,391 100.1,393.13 100.4,393.94 101,394.02 101.9,394.12 102.75,394.46 102.8,393.91 103.7,390.57 104,390" fill="none" stroke="#000" stroke-width="1.0" stroke-linejoin="round"/>
<polyline points="103.7,390.57 104,390 104.6,391.97 105.05,393.94 105.25,394.48 105.5,393.55 105.95,393.76 106.4,393.67 106.62,394.51 106.85,393.58 107.3,391.52 107.75,389.39 108,389 108.2,389.25 108.65,391.24 109.1,393.43 109.38,393.52 109.55,393.11 110,393.77 110.45,393.69 110.5,394.01 110.9,392.64 111.35,389.31 111.8,386.63 112,386.3 112.25,386.81 112.7,389.7 113.15,392.92 113.5,394.35 113.6,394.5 114.05,394.38 114.5,393.73 114.62,393.74 114.95,393.12 115.4,390.36 115.85,388.17 116,388 116.3,388.67 116.75,391.37 117.2,393.64 117.38,393.18 117.65,393.1 118.1,393.34 118.55,393.26 118.62,393.68 119,392.76 119.45,389.58 119.9,387.39 120,387.3 120.35,388.3 120.8,391.44 121.25,393.68 121.38,393.3 121.7,394.46 122.15,394.69 122.6,393.85 122.62,393.87 123.05,392.4 123.5,389.02 123.95,387.02 124,387 124.4,388.34 124.85,391.7 125.3,393.14 125.38,394.62 125.75,393.95 126.2,392.78 126.65,390.71 127,390 127.1,390.06 127.55,391.58 128,393.53 128.25,394.21 128.45,393.52 128.5,393.69 128.9,392.43 129.35,388.52 129.8,385.38 130,385 130.25,385.6 130.5,387.23 130.7,388.98 131.15,392.32 131.5,390.45 131.6,389.84 132.05,387.06 132.5,384.85 132.65,384.38 132.95,367.17 133,362.71 133.1,353.8 133.4,380.53 133.55,385.05 133.85,386.49 134.3,389.21 134.75,391.84 135.2,391.63 135.5,388.73 135.65,387.43 136,386 136.1,386.12 136.55,389.21 137,393.15 137.25,393.41 137.45,393.43 137.9,394.1 138.35,394.54 138.8,394.44 139.25,393.87 139.5,394.14 139.7,393.58 140.15,390.93 140.6,387.64 141,386.4 141.05,386.42 141.5,388.27 141.95,391.68 142.4,393.39 142.5,394.36 142.85,393.63 143.3,394.38 143.75,394.65 144.2,393.73 144.65,393.74 145,394.61 145.1,393.78 145.55,390.67 146,385.73 146.45,383.03 146.5,383 146.9,384.8 147.35,389.58 147.8,393.43 148,394.67 148.25,394.15 148.7,393.66 149.15,393.98 149.6,393.31 149.62,393.12 150.05,392.83 150.5,390.43 150.95,389.02 151,389 151.4,389.95 151.85,392.34 152.3,393.86 152.38,393.44 152.75,393.5 153.2,391.34 153.65,386.61 154,385 154.1,385.14 154.55,388.62 154.78,391.14 155,393.05 155.25,390.44 155.45,387.41 155.9,380.1 156.12,377.56 156.35,376.34 156.4,376.3 156.8,378.8 157.25,384.8 157.7,380.86 158,380 158.03,380.01 158.15,380.22 158.6,383.23 158.7,384.26 159.05,335.31 159.2,310.2 159.5,360.42 159.7,393.6 159.88,393.62 159.95,393.93 160.4,393.99 160.68,393.9 160.85,393.27 161.3,389.58 161.75,383.94 162.2,380.62 162.3,380.5 162.65,381.98 163.1,387.04 163.25,388.96 163.55,392.22 163.93,389.41 164,388.73 164.45,386.03 164.5,386 164.9,387.83 165.35,392.07 165.75,393.95 165.8,393.86 166.25,392.79 166.7,391.13 167,390.7 167.15,390.81 167.6,392.2 168.05,393.7 168.25,394.61 168.5,394.44 168.95,393.32 169.4,393.29 169.85,393.81 170.3,393.22 170.62,393.49 170.75,393.22 171.2,391.44 171.65,388.3 172,387.3 172.1,387.39 172.55,389.58 173,392.76 173.38,393.33 173.45,394.51 173.9,394.65 174.35,393.45 174.8,394.62 175.25,393.74 175.62,393.88 175.7,393.83 176.15,391.06 176.6,386.73 177,385 177.05,385.03 177.5,387.6 177.95,391.96 178.38,393.61 178.4,394.26 178.85,393.13 179.3,393.99 179.75,393.8 180,393.13 180.2,390.54 180.65,382.99 180.9,378.8 181.1,382.16 181.55,389.71 181.8,394.36 182,394.65 182.45,393.27 182.9,393.52 183.35,393.16 183.62,394.35 183.8,393.47 184.25,389.23 184.7,384.23 185,383 185.15,383.32 185.6,387.37 186.05,392.47 186.38,394.57 186.5,394.01 186.75,394.22 186.95,393.24 187.4,390.23 187.85,387.24 188,387 188.3,387.94 188.75,391.52 189.2,393.87 189.25,394.38 189.65,393.23 190.1,394.47 190.53,393.21 190.55,393.89 191,391.26 191.45,386.39 191.9,384 192.35,386.39 192.4,386.89 192.8,390.95 193.2,388 193.25,388.37 193.28,388.59 193.7,391.69 194,393.18 194.15,393.42 194.2,393.6 194.6,390.36 195.05,380.98 195.5,373.43 195.7,372.5 195.95,373.93 196.2,377.85 196.4,382.08 196.85,387.89 196.95,386.96 197,386.5 197.2,388.35 197.3,389.28 197.75,382.28 197.8,381.38 198.2,377.6 198.65,382.28 199.1,390.95 199.45,393.89 199.55,394.44 199.6,393.73 200,309.12 200.1,287.8 200.45,362.42 200.6,394.15 201.05,394.93 201.2,394.73 201.65,391.36 202,389 202.25,390.69 202.57,392.85 202.8,393.79 202.85,393.5 203.45,387.12 204.05,381.67 204.2,381.4 204.65,383.71 204.88,386.25 205.25,390.78 205.82,386.94 205.85,386.61 206.45,382.53 206.5,382.5 206.68,382.86 207.05,385.56 207.65,385.89 208.12,381.79 208.25,381.43 208.3,381.4 208.85,384.74 209.45,391.85 209.93,395.15 210.05,394.1 210.65,394.17 211.25,393.6 211.3,394.21 211.85,392.65 212.45,389.26 212.8,388.5 213.05,388.9 213.65,392.06 214.25,394.02 214.3,393.74 214.85,394.24 215.45,393.67 216.05,393.64 216.65,394.09 217.25,393.97 217.85,394.54 218.45,394.45 219.05,394.8 219.65,394.65 220.25,394.75 220.85,395.01 221.45,394.22 221.75,394.12 222.05,393.87 222.65,391.21 223,390.5 223.25,390.87 223.85,393.49 224.03,394.11 224.25,394.03 224.45,393.14 225.05,389.48 225.4,388.6 225.65,389.06 226.25,392.55 226.75,394.4 226.78,394.39 226.85,394.34 227.45,392.08 228,390.5 228.05,390.52 228.62,392.43 228.65,392.57 229.25,391.01 229.85,386.73 230,386.5 230.45,388.41 230.75,391.01 231.05,393.36 231.38,392.43 231.65,391.21 232,390.5 232.25,390.87 232.85,393.49 233.25,393.61 233.45,394.88 234.05,394.8 234.65,394.4 235.25,394.46 235.85,394.65 236.45,393.71 237.05,394.78 237.65,394 238.25,393.72 238.85,394.02 239.45,394.77 240.05,392.81 240.65,391.01 240.7,391 240.72,391 241.25,391.97 241.85,385.63 241.95,384.6 242.45,381.21 242.6,381 243.05,382.82 243.5,387.28 243.65,388.16 244.25,363.18 244.3,361.1 244.38,364.43 244.47,368.18 244.85,383.99 245.1,389.24 245.45,385.19 246,382 246.05,382.03 246.65,386.28 247.25,392.84 247.62,394.4 247.75,394.34 247.85,394.35 248.45,392.98 249,392 249.05,392.01 249.65,393.28 250.25,395.1 250.45,393.63 250.85,391.57 251.45,383.36 251.7,382.2 252.05,384.41 252.65,392.75 252.95,393.94 253.25,395.11 253.8,393.94 253.85,393.53 254.45,383.13 254.7,378.8 255.05,384.87 255.6,393.81 255.65,394.91 256.25,394.41 256.85,390.7 257.45,386.53 257.5,386.5 258.05,389.71 258.65,394.28 258.75,393.64 259.2,393.61 259.25,393.58 259.85,383.78 260.1,379.7 260.45,385.42 261,394.15 261.05,394.11 261.65,394.94 262.25,393.6 262.75,394.8 262.85,394.38 263.45,393.57 264,393 264.05,393.01 264.65,393.74 265.25,394.06 265.85,394.2 266.45,394.23 266.75,395.2 267.05,394.14 267.65,392.84 268,392.5 268.25,392.68 268.85,393.68 269.25,393.76 269.45,394.94 270.05,394.06 270.65,395.1 270.75,394 271.25,393.92 271.85,393.05 272,393 272.45,393.4 273.05,394.31 273.25,395.01 273.65,394.9 274.25,394.61 274.85,395.06 275.45,395.11 276.05,394.48 276.65,394.75 276.73,393.68 277.25,389.72 277.85,380.87 278.1,379.7 278.45,381.93 279.05,391.2 279.48,393.68 279.65,395.08 280.25,393.8 280.75,394.36 280.85,394.15 281.45,392.2 282,390.7 282.05,390.71 282.65,392.67 283.25,394.65 283.85,394.08 284.45,394.49 284.85,394.23 285.05,393.22 285.65,380.86 286.1,375.4 286.25,376.07 286.85,387.84 287.2,393.73 287.35,393.39 287.45,392.71 288,389 288.05,389.34 288.65,393.39 288.8,393.75 289.05,394.15 289.25,393.22 289.85,380.86 290.3,375.4 290.45,376.07 291.05,387.84 291.55,394.8 291.65,394.26 291.75,394.26 292.25,391.84 292.85,387.26 293,387 293.45,389.12 294.05,393.94 294.25,395.15 294.65,393.8 294.75,394.41 295.25,392.53 295.85,389.19 296,389 296.45,390.55 297.05,394 297.25,394.24 297.65,394.31 298.25,395.13 298.85,394.96 299.45,395 300.05,393.63 300.62,393.65 300.65,394.39 301.25,389.17 301.85,382.55 302,382.2 302.45,385.15 302.62,387.36 303.05,392.41 303.38,388.67 303.65,385 304.1,379.77 304.25,378.71 304.5,378 304.65,378.26 304.85,377.83 305.12,355.46 305.45,328.13 305.6,315.7 306.05,352.98 306.38,380.32 306.55,378.49 306.65,377.54 307,376 307.1,376.13 307.25,376.8 307.85,383.86 308.32,390.7 308.45,392.16 308.88,387.73 309.05,384.09 309.65,375.46 309.7,375.4 310.25,381.96 310.85,393.17 311.07,394.4 311.45,394.53 312.05,394.22 312.65,393.96 313.25,394.56 313.75,393.62 313.85,394.08 314.45,393.87 315,393.5 315.05,393.5 315.65,393.98 316.25,394.36 316.85,393.98 317.12,394 317.45,393.1 318.05,386.89 318.5,384.5 318.65,384.79 319.25,390.15 319.85,390 319.88,389.64 320.45,385.04 320.5,385 321.05,388.82 321.65,393.96 321.75,393.65 322.25,394.14 322.85,394.27 323.45,394.69 324.05,393.92 324.62,394.88 324.65,394.39 325.25,390.63 325.85,385.86 326,385.6 326.45,387.73 327.05,393.24 327.38,393.97 327.65,393.95 328.25,394.82 328.62,394.07 328.85,393.56 329.45,385.89 330,381.4 330.05,381.44 330.65,387.34 331.25,394.14 331.38,395.12 331.85,393.83 332.45,394.23 332.75,393.94 333.05,393.94 333.65,391.62 334,391 334.25,391.32 334.85,393.61 335.25,395.04 335.45,395.01 336.05,394.77 336.65,395.2 337.12,395.09 337.25,394.13 337.85,388.7 338.45,383.93 338.5,383.9 339.05,387.53 339.65,393.72 339.88,394.21 340.25,394.2 340.85,394.13 341.45,393.87 342.05,393.6 342.65,394.05 343.25,394.16 343.85,395.13 344.45,393.8 345.05,396.88 346.55,397.41 347.88,396.96 348.05,395.66 349.55,382.48 349.8,381.9 351.05,392.12 351.72,396.5 352.55,396.99 354.05,397.63 355.55,396.96 355.74,396.06 357.05,389.32 357.5,388.1 358.55,393.27 359.26,396.06 359.34,396.11 360.05,391.79 361.1,382.5 361.55,384.69 362.86,396.8 363.05,397.4 364.55,397.43 366.05,396.92 367.55,396.15 369.05,395.84 370.55,396.2 372.05,396.57 373.55,397.01 375.05,397.5 376.55,397.42 378.05,397.14 379.55,396.6 381.05,396.37 382.55,396.11 384.05,395.94 385.55,396.19 387.05,396.24 388.55,396.7 389.58,397.04 390.05,396.46 391.5,390.7 391.55,390.71 393.05,396.8 393.3,397.27 393.42,397.21 394.55,391.96 395.7,387.3 396.05,387.81 396.38,389.15 397.55,392.7 398.1,390.86 398.3,390.7 399.05,392.7 400.22,396.28 400.55,396.23 402.05,396.12 403.55,395.79 405.05,395.82 406.55,396.09 408.05,396.13 409.55,396.32 410.78,396.53 411.05,396.73 412.55,394.8 414.05,392.46 414.3,392.4 415.55,393.76 417.05,396.69 417.82,397.24 418.55,397.38 420.05,397.45 421.55,397.4 423.05,397.16 424.55,396.9 426.05,396.74 427.55,396.59 429.05,396.4 430.55,396.25 431.2,396.22 432.05,395.75 433.55,394.93 435.05,394.09 436,393.9 436.55,393.96 438.05,394.67 439.55,395.58 439.9,395.73 440.8,396.05 441.05,395.96 442.55,395.1 443.1,395 444.05,395.27 445.55,396.16 446.3,396.34 447.05,396.92 448.55,396.93 450.05,397 451.55,397.3 453.05,397.36 454.55,397.55 456.05,397.34 457.55,397.49 459.05,397.59 460.55,397.58 462.05,397.56" fill="none" stroke="#000" stroke-width="1.45" stroke-linejoin="round"/>
<line x1="53.5" y1="331.4" x2="463.5" y2="331.4" stroke="#000" stroke-width="1.3" stroke-dasharray="5.7 5.5"/>
<path d="M200.3 282.2L204.4 290.4L196.2 290.4Z" fill="none" stroke="#ff0000" stroke-width="1.3" stroke-linejoin="miter"/>
<path d="M57.3 540a3.2 3.2 0 1 0 6.4 0a3.2 3.2 0 1 0 -6.4 0M62.5 532.9a3.2 3.2 0 1 0 6.4 0a3.2 3.2 0 1 0 -6.4 0M64 537a3.2 3.2 0 1 0 6.4 0a3.2 3.2 0 1 0 -6.4 0M66.2 542.2a3.2 3.2 0 1 0 6.4 0a3.2 3.2 0 1 0 -6.4 0M67.7 545.1a3.2 3.2 0 1 0 6.4 0a3.2 3.2 0 1 0 -6.4 0M72.9 543.7a3.2 3.2 0 1 0 6.4 0a3.2 3.2 0 1 0 -6.4 0M75.8 545.1a3.2 3.2 0 1 0 6.4 0a3.2 3.2 0 1 0 -6.4 0M81 536.3a3.2 3.2 0 1 0 6.4 0a3.2 3.2 0 1 0 -6.4 0M83.2 540.7a3.2 3.2 0 1 0 6.4 0a3.2 3.2 0 1 0 -6.4 0M84.7 527.4a3.2 3.2 0 1 0 6.4 0a3.2 3.2 0 1 0 -6.4 0M86.9 532.6a3.2 3.2 0 1 0 6.4 0a3.2 3.2 0 1 0 -6.4 0M86.2 542.9a3.2 3.2 0 1 0 6.4 0a3.2 3.2 0 1 0 -6.4 0M92.9 537a3.2 3.2 0 1 0 6.4 0a3.2 3.2 0 1 0 -6.4 0M95.8 530.3a3.2 3.2 0 1 0 6.4 0a3.2 3.2 0 1 0 -6.4 0M102.5 534.8a3.2 3.2 0 1 0 6.4 0a3.2 3.2 0 1 0 -6.4 0M104 540a3.2 3.2 0 1 0 6.4 0a3.2 3.2 0 1 0 -6.4 0M106.9 526.6a3.2 3.2 0 1 0 6.4 0a3.2 3.2 0 1 0 -6.4 0M109.9 536.3a3.2 3.2 0 1 0 6.4 0a3.2 3.2 0 1 0 -6.4 0M64.2 541.3a3.2 3.2 0 1 0 6.4 0a3.2 3.2 0 1 0 -6.4 0M74.1 542.4a3.2 3.2 0 1 0 6.4 0a3.2 3.2 0 1 0 -6.4 0M83.6 537.1a3.2 3.2 0 1 0 6.4 0a3.2 3.2 0 1 0 -6.4 0M87.9 540.3a3.2 3.2 0 1 0 6.4 0a3.2 3.2 0 1 0 -6.4 0M102.7 537.1a3.2 3.2 0 1 0 6.4 0a3.2 3.2 0 1 0 -6.4 0M109 535a3.2 3.2 0 1 0 6.4 0a3.2 3.2 0 1 0 -6.4 0M112.2 538.1a3.2 3.2 0 1 0 6.4 0a3.2 3.2 0 1 0 -6.4 0M113.2 528.2a3.2 3.2 0 1 0 6.4 0a3.2 3.2 0 1 0 -6.4 0M114.3 537.1a3.2 3.2 0 1 0 6.4 0a3.2 3.2 0 1 0 -6.4 0M115.3 532.9a3.2 3.2 0 1 0 6.4 0a3.2 3.2 0 1 0 -6.4 0M117.5 541.3a3.2 3.2 0 1 0 6.4 0a3.2 3.2 0 1 0 -6.4 0M117.5 527.6a3.2 3.2 0 1 0 6.4 0a3.2 3.2 0 1 0 -6.4 0M118.5 530.7a3.2 3.2 0 1 0 6.4 0a3.2 3.2 0 1 0 -6.4 0M120.6 521.2a3.2 3.2 0 1 0 6.4 0a3.2 3.2 0 1 0 -6.4 0M122.1 511.1a3.2 3.2 0 1 0 6.4 0a3.2 3.2 0 1 0 -6.4 0M122.7 537.1a3.2 3.2 0 1 0 6.4 0a3.2 3.2 0 1 0 -6.4 0M127 527.6a3.2 3.2 0 1 0 6.4 0a3.2 3.2 0 1 0 -6.4 0M133.3 527.6a3.2 3.2 0 1 0 6.4 0a3.2 3.2 0 1 0 -6.4 0M134.4 532.9a3.2 3.2 0 1 0 6.4 0a3.2 3.2 0 1 0 -6.4 0M138.6 524.4a3.2 3.2 0 1 0 6.4 0a3.2 3.2 0 1 0 -6.4 0M140.7 528.6a3.2 3.2 0 1 0 6.4 0a3.2 3.2 0 1 0 -6.4 0M147.1 527.6a3.2 3.2 0 1 0 6.4 0a3.2 3.2 0 1 0 -6.4 0M148.9 527.1a3.2 3.2 0 1 0 6.4 0a3.2 3.2 0 1 0 -6.4 0M152.1 525.4a3.2 3.2 0 1 0 6.4 0a3.2 3.2 0 1 0 -6.4 0M156.3 527.1a3.2 3.2 0 1 0 6.4 0a3.2 3.2 0 1 0 -6.4 0M157.4 521.8a3.2 3.2 0 1 0 6.4 0a3.2 3.2 0 1 0 -6.4 0M159.5 517.6a3.2 3.2 0 1 0 6.4 0a3.2 3.2 0 1 0 -6.4 0M165.8 513.3a3.2 3.2 0 1 0 6.4 0a3.2 3.2 0 1 0 -6.4 0M167.9 519.7a3.2 3.2 0 1 0 6.4 0a3.2 3.2 0 1 0 -6.4 0M172.2 515.5a3.2 3.2 0 1 0 6.4 0a3.2 3.2 0 1 0 -6.4 0M173.2 520.7a3.2 3.2 0 1 0 6.4 0a3.2 3.2 0 1 0 -6.4 0M178.9 504.5a3.2 3.2 0 1 0 6.4 0a3.2 3.2 0 1 0 -6.4 0M179.6 513.3a3.2 3.2 0 1 0 6.4 0a3.2 3.2 0 1 0 -6.4 0M182.7 511.2a3.2 3.2 0 1 0 6.4 0a3.2 3.2 0 1 0 -6.4 0M184.9 515.5a3.2 3.2 0 1 0 6.4 0a3.2 3.2 0 1 0 -6.4 0M187 518.6a3.2 3.2 0 1 0 6.4 0a3.2 3.2 0 1 0 -6.4 0M190.1 511.2a3.2 3.2 0 1 0 6.4 0a3.2 3.2 0 1 0 -6.4 0M192.3 516.5a3.2 3.2 0 1 0 6.4 0a3.2 3.2 0 1 0 -6.4 0M197.5 511.2a3.2 3.2 0 1 0 6.4 0a3.2 3.2 0 1 0 -6.4 0M199.7 514.4a3.2 3.2 0 1 0 6.4 0a3.2 3.2 0 1 0 -6.4 0M203.9 508.1a3.2 3.2 0 1 0 6.4 0a3.2 3.2 0 1 0 -6.4 0M203.9 514.4a3.2 3.2 0 1 0 6.4 0a3.2 3.2 0 1 0 -6.4 0M210.2 509.1a3.2 3.2 0 1 0 6.4 0a3.2 3.2 0 1 0 -6.4 0M213.4 513.3a3.2 3.2 0 1 0 6.4 0a3.2 3.2 0 1 0 -6.4 0M214.5 505.9a3.2 3.2 0 1 0 6.4 0a3.2 3.2 0 1 0 -6.4 0M216.6 504.9a3.2 3.2 0 1 0 6.4 0a3.2 3.2 0 1 0 -6.4 0M219.7 510.2a3.2 3.2 0 1 0 6.4 0a3.2 3.2 0 1 0 -6.4 0M219.7 504.5a3.2 3.2 0 1 0 6.4 0a3.2 3.2 0 1 0 -6.4 0M224.6 496.4a3.2 3.2 0 1 0 6.4 0a3.2 3.2 0 1 0 -6.4 0M225.4 504.2a3.2 3.2 0 1 0 6.4 0a3.2 3.2 0 1 0 -6.4 0M230.3 514.4a3.2 3.2 0 1 0 6.4 0a3.2 3.2 0 1 0 -6.4 0M234.5 502.8a3.2 3.2 0 1 0 6.4 0a3.2 3.2 0 1 0 -6.4 0M237.7 509.1a3.2 3.2 0 1 0 6.4 0a3.2 3.2 0 1 0 -6.4 0M241.9 501.3a3.2 3.2 0 1 0 6.4 0a3.2 3.2 0 1 0 -6.4 0M245.1 508.1a3.2 3.2 0 1 0 6.4 0a3.2 3.2 0 1 0 -6.4 0M247.1 505.5a3.2 3.2 0 1 0 6.4 0a3.2 3.2 0 1 0 -6.4 0M251.3 502.3a3.2 3.2 0 1 0 6.4 0a3.2 3.2 0 1 0 -6.4 0M254.5 495.5a3.2 3.2 0 1 0 6.4 0a3.2 3.2 0 1 0 -6.4 0M257 495.9a3.2 3.2 0 1 0 6.4 0a3.2 3.2 0 1 0 -6.4 0M253.4 508.6a3.2 3.2 0 1 0 6.4 0a3.2 3.2 0 1 0 -6.4 0M257.7 508.2a3.2 3.2 0 1 0 6.4 0a3.2 3.2 0 1 0 -6.4 0M262.9 512.9a3.2 3.2 0 1 0 6.4 0a3.2 3.2 0 1 0 -6.4 0M267.2 498.1a3.2 3.2 0 1 0 6.4 0a3.2 3.2 0 1 0 -6.4 0M268.2 504.4a3.2 3.2 0 1 0 6.4 0a3.2 3.2 0 1 0 -6.4 0M269.3 480.1a3.2 3.2 0 1 0 6.4 0a3.2 3.2 0 1 0 -6.4 0M266.8 508.6a3.2 3.2 0 1 0 6.4 0a3.2 3.2 0 1 0 -6.4 0M271.4 508.6a3.2 3.2 0 1 0 6.4 0a3.2 3.2 0 1 0 -6.4 0M273.5 505.5a3.2 3.2 0 1 0 6.4 0a3.2 3.2 0 1 0 -6.4 0M276.7 501.2a3.2 3.2 0 1 0 6.4 0a3.2 3.2 0 1 0 -6.4 0M279.4 507.6a3.2 3.2 0 1 0 6.4 0a3.2 3.2 0 1 0 -6.4 0M286.2 499.1a3.2 3.2 0 1 0 6.4 0a3.2 3.2 0 1 0 -6.4 0M288.7 483.7a3.2 3.2 0 1 0 6.4 0a3.2 3.2 0 1 0 -6.4 0M287.3 504.4a3.2 3.2 0 1 0 6.4 0a3.2 3.2 0 1 0 -6.4 0M293.6 499.1a3.2 3.2 0 1 0 6.4 0a3.2 3.2 0 1 0 -6.4 0M294.7 505.5a3.2 3.2 0 1 0 6.4 0a3.2 3.2 0 1 0 -6.4 0M297.8 484.3a3.2 3.2 0 1 0 6.4 0a3.2 3.2 0 1 0 -6.4 0M298.9 502.3a3.2 3.2 0 1 0 6.4 0a3.2 3.2 0 1 0 -6.4 0M303.1 504.4a3.2 3.2 0 1 0 6.4 0a3.2 3.2 0 1 0 -6.4 0M307.3 509.7a3.2 3.2 0 1 0 6.4 0a3.2 3.2 0 1 0 -6.4 0M309.5 504.4a3.2 3.2 0 1 0 6.4 0a3.2 3.2 0 1 0 -6.4 0M311.6 511.8a3.2 3.2 0 1 0 6.4 0a3.2 3.2 0 1 0 -6.4 0M314.7 506.5a3.2 3.2 0 1 0 6.4 0a3.2 3.2 0 1 0 -6.4 0M315.8 516a3.2 3.2 0 1 0 6.4 0a3.2 3.2 0 1 0 -6.4 0M319 503.3a3.2 3.2 0 1 0 6.4 0a3.2 3.2 0 1 0 -6.4 0M321.1 505.5a3.2 3.2 0 1 0 6.4 0a3.2 3.2 0 1 0 -6.4 0M325.3 501.2a3.2 3.2 0 1 0 6.4 0a3.2 3.2 0 1 0 -6.4 0M326.4 510.7a3.2 3.2 0 1 0 6.4 0a3.2 3.2 0 1 0 -6.4 0M328.1 494.5a3.2 3.2 0 1 0 6.4 0a3.2 3.2 0 1 0 -6.4 0M328.5 505.5a3.2 3.2 0 1 0 6.4 0a3.2 3.2 0 1 0 -6.4 0M330.6 517.1a3.2 3.2 0 1 0 6.4 0a3.2 3.2 0 1 0 -6.4 0M332.7 504.4a3.2 3.2 0 1 0 6.4 0a3.2 3.2 0 1 0 -6.4 0M334.8 511.8a3.2 3.2 0 1 0 6.4 0a3.2 3.2 0 1 0 -6.4 0M338 502.3a3.2 3.2 0 1 0 6.4 0a3.2 3.2 0 1 0 -6.4 0M339.1 494.9a3.2 3.2 0 1 0 6.4 0a3.2 3.2 0 1 0 -6.4 0M339.1 516a3.2 3.2 0 1 0 6.4 0a3.2 3.2 0 1 0 -6.4 0M338.9 509.6a3.2 3.2 0 1 0 6.4 0a3.2 3.2 0 1 0 -6.4 0M337.9 518.1a3.2 3.2 0 1 0 6.4 0a3.2 3.2 0 1 0 -6.4 0M344.2 509.6a3.2 3.2 0 1 0 6.4 0a3.2 3.2 0 1 0 -6.4 0M345.3 518.1a3.2 3.2 0 1 0 6.4 0a3.2 3.2 0 1 0 -6.4 0M350.5 522.3a3.2 3.2 0 1 0 6.4 0a3.2 3.2 0 1 0 -6.4 0M352.7 512.8a3.2 3.2 0 1 0 6.4 0a3.2 3.2 0 1 0 -6.4 0M355.8 510.7a3.2 3.2 0 1 0 6.4 0a3.2 3.2 0 1 0 -6.4 0M356.9 522.3a3.2 3.2 0 1 0 6.4 0a3.2 3.2 0 1 0 -6.4 0M360.1 512.8a3.2 3.2 0 1 0 6.4 0a3.2 3.2 0 1 0 -6.4 0M362.2 524.4a3.2 3.2 0 1 0 6.4 0a3.2 3.2 0 1 0 -6.4 0M364.3 513.8a3.2 3.2 0 1 0 6.4 0a3.2 3.2 0 1 0 -6.4 0M366.4 522.3a3.2 3.2 0 1 0 6.4 0a3.2 3.2 0 1 0 -6.4 0M368.5 513.8a3.2 3.2 0 1 0 6.4 0a3.2 3.2 0 1 0 -6.4 0M371.7 514.9a3.2 3.2 0 1 0 6.4 0a3.2 3.2 0 1 0 -6.4 0M372.7 524.4a3.2 3.2 0 1 0 6.4 0a3.2 3.2 0 1 0 -6.4 0M375.9 517a3.2 3.2 0 1 0 6.4 0a3.2 3.2 0 1 0 -6.4 0M375.9 529.7a3.2 3.2 0 1 0 6.4 0a3.2 3.2 0 1 0 -6.4 0M381.2 522.3a3.2 3.2 0 1 0 6.4 0a3.2 3.2 0 1 0 -6.4 0M384.4 530.3a3.2 3.2 0 1 0 6.4 0a3.2 3.2 0 1 0 -6.4 0M389.7 517.6a3.2 3.2 0 1 0 6.4 0a3.2 3.2 0 1 0 -6.4 0M390.7 522.3a3.2 3.2 0 1 0 6.4 0a3.2 3.2 0 1 0 -6.4 0M392.8 535a3.2 3.2 0 1 0 6.4 0a3.2 3.2 0 1 0 -6.4 0M394.9 538.1a3.2 3.2 0 1 0 6.4 0a3.2 3.2 0 1 0 -6.4 0M399.2 521.2a3.2 3.2 0 1 0 6.4 0a3.2 3.2 0 1 0 -6.4 0M400.2 527.6a3.2 3.2 0 1 0 6.4 0a3.2 3.2 0 1 0 -6.4 0M405.5 527.6a3.2 3.2 0 1 0 6.4 0a3.2 3.2 0 1 0 -6.4 0M406.6 532.9a3.2 3.2 0 1 0 6.4 0a3.2 3.2 0 1 0 -6.4 0M409.7 537.1a3.2 3.2 0 1 0 6.4 0a3.2 3.2 0 1 0 -6.4 0M412.9 528.6a3.2 3.2 0 1 0 6.4 0a3.2 3.2 0 1 0 -6.4 0M416.1 525.5a3.2 3.2 0 1 0 6.4 0a3.2 3.2 0 1 0 -6.4 0M417.1 535a3.2 3.2 0 1 0 6.4 0a3.2 3.2 0 1 0 -6.4 0M421.4 523.3a3.2 3.2 0 1 0 6.4 0a3.2 3.2 0 1 0 -6.4 0M424.5 547.7a3.2 3.2 0 1 0 6.4 0a3.2 3.2 0 1 0 -6.4 0M427.7 529.7a3.2 3.2 0 1 0 6.4 0a3.2 3.2 0 1 0 -6.4 0M428.8 542.4a3.2 3.2 0 1 0 6.4 0a3.2 3.2 0 1 0 -6.4 0M429.8 537.1a3.2 3.2 0 1 0 6.4 0a3.2 3.2 0 1 0 -6.4 0M435.1 530.7a3.2 3.2 0 1 0 6.4 0a3.2 3.2 0 1 0 -6.4 0M332.3 506.1a3.2 3.2 0 1 0 6.4 0a3.2 3.2 0 1 0 -6.4 0M341.9 510.2a3.2 3.2 0 1 0 6.4 0a3.2 3.2 0 1 0 -6.4 0M344.7 515.7a3.2 3.2 0 1 0 6.4 0a3.2 3.2 0 1 0 -6.4 0M357 518.5a3.2 3.2 0 1 0 6.4 0a3.2 3.2 0 1 0 -6.4 0M362.5 521.2a3.2 3.2 0 1 0 6.4 0a3.2 3.2 0 1 0 -6.4 0M370.8 517.1a3.2 3.2 0 1 0 6.4 0a3.2 3.2 0 1 0 -6.4 0M385.9 524a3.2 3.2 0 1 0 6.4 0a3.2 3.2 0 1 0 -6.4 0M398.3 526.7a3.2 3.2 0 1 0 6.4 0a3.2 3.2 0 1 0 -6.4 0M402.4 532.2a3.2 3.2 0 1 0 6.4 0a3.2 3.2 0 1 0 -6.4 0M407.9 535a3.2 3.2 0 1 0 6.4 0a3.2 3.2 0 1 0 -6.4 0M409.3 539.1a3.2 3.2 0 1 0 6.4 0a3.2 3.2 0 1 0 -6.4 0M447.7 532.2a3.2 3.2 0 1 0 6.4 0a3.2 3.2 0 1 0 -6.4 0M449.1 540.5a3.2 3.2 0 1 0 6.4 0a3.2 3.2 0 1 0 -6.4 0M358.8 520a3.2 3.2 0 1 0 6.4 0a3.2 3.2 0 1 0 -6.4 0M399.8 522.6a3.2 3.2 0 1 0 6.4 0a3.2 3.2 0 1 0 -6.4 0M399 530.7a3.2 3.2 0 1 0 6.4 0a3.2 3.2 0 1 0 -6.4 0M416 533.7a3.2 3.2 0 1 0 6.4 0a3.2 3.2 0 1 0 -6.4 0M449.3 532.2a3.2 3.2 0 1 0 6.4 0a3.2 3.2 0 1 0 -6.4 0M450.8 540.3a3.2 3.2 0 1 0 6.4 0a3.2 3.2 0 1 0 -6.4 0" fill="#000"/>
<path d="M53.9 540C54.88 540.1 57.83 540.48 59.8 540.58C61.77 540.67 63.23 540.68 65.7 540.55C68.17 540.42 71.88 540.09 74.6 539.78C77.32 539.46 79.53 539.02 82 538.65C84.47 538.27 87.18 537.94 89.4 537.52C91.62 537.11 92.83 536.74 95.3 536.17C97.77 535.61 100.68 534.83 104.2 534.12C107.72 533.42 112.6 532.62 116.4 531.97C120.2 531.33 123.47 530.85 127 530.25C130.53 529.65 133.77 529.2 137.6 528.38C141.43 527.55 145.82 526.51 150 525.33C154.18 524.14 159.18 522.52 162.7 521.25C166.22 519.98 167.93 518.7 171.1 517.67C174.27 516.65 178.17 515.86 181.7 515.12C185.23 514.39 188.77 513.85 192.3 513.25C195.83 512.65 199.38 512.1 202.9 511.5C206.42 510.9 209.88 510.23 213.4 509.67C216.92 509.12 220.47 508.65 224 508.18C227.53 507.7 231.43 507.24 234.6 506.82C237.77 506.41 240.43 505.95 243 505.68C245.57 505.4 247.9 505.31 250 505.15C252.1 504.99 252.92 504.94 255.6 504.73C258.28 504.51 262.58 504.2 266.1 503.88C269.62 503.55 273.17 503.01 276.7 502.75C280.23 502.49 283.77 502.21 287.3 502.3C290.83 502.39 294.38 502.84 297.9 503.3C301.42 503.76 304.88 504.44 308.4 505.05C311.92 505.66 315.47 506.31 319 506.95C322.53 507.59 326.1 508.29 329.6 508.9C333.1 509.51 336.5 509.99 340 510.62C343.5 511.26 347.08 511.85 350.6 512.7C354.12 513.55 357.58 514.64 361.1 515.75C364.62 516.86 368.17 518.17 371.7 519.35C375.23 520.52 378.77 521.72 382.3 522.8C385.83 523.88 389.38 524.86 392.9 525.83C396.42 526.79 399.88 527.77 403.4 528.6C406.92 529.43 410.47 530.13 414 530.8C417.53 531.47 420.77 531.89 424.6 532.62C428.43 533.36 432.1 534.17 437 535.2C441.9 536.23 451.17 538.2 454 538.8" fill="none" stroke="#ffa500" stroke-width="2.7"/>
<line x1="53.5" y1="456.69" x2="57.1" y2="456.69" stroke="#000" stroke-width="1.15" />
<line x1="463.8" y1="456.69" x2="460.2" y2="456.69" stroke="#000" stroke-width="1.15" />
<line x1="53.5" y1="458.59" x2="57.1" y2="458.59" stroke="#000" stroke-width="1.15" />
<line x1="463.8" y1="458.59" x2="460.2" y2="458.59" stroke="#000" stroke-width="1.15" />
<line x1="53.5" y1="460.5" x2="57.1" y2="460.5" stroke="#000" stroke-width="1.15" />
<line x1="463.8" y1="460.5" x2="460.2" y2="460.5" stroke="#000" stroke-width="1.15" />
<line x1="53.5" y1="462.4" x2="61.5" y2="462.4" stroke="#000" stroke-width="1.15" />
<line x1="463.8" y1="462.4" x2="455.8" y2="462.4" stroke="#000" stroke-width="1.15" />
<line x1="53.5" y1="464.31" x2="57.1" y2="464.31" stroke="#000" stroke-width="1.15" />
<line x1="463.8" y1="464.31" x2="460.2" y2="464.31" stroke="#000" stroke-width="1.15" />
<line x1="53.5" y1="466.21" x2="57.1" y2="466.21" stroke="#000" stroke-width="1.15" />
<line x1="463.8" y1="466.21" x2="460.2" y2="466.21" stroke="#000" stroke-width="1.15" />
<line x1="53.5" y1="468.12" x2="57.1" y2="468.12" stroke="#000" stroke-width="1.15" />
<line x1="463.8" y1="468.12" x2="460.2" y2="468.12" stroke="#000" stroke-width="1.15" />
<line x1="53.5" y1="470.02" x2="57.1" y2="470.02" stroke="#000" stroke-width="1.15" />
<line x1="463.8" y1="470.02" x2="460.2" y2="470.02" stroke="#000" stroke-width="1.15" />
<line x1="53.5" y1="471.93" x2="57.1" y2="471.93" stroke="#000" stroke-width="1.15" />
<line x1="463.8" y1="471.93" x2="460.2" y2="471.93" stroke="#000" stroke-width="1.15" />
<line x1="53.5" y1="473.83" x2="57.1" y2="473.83" stroke="#000" stroke-width="1.15" />
<line x1="463.8" y1="473.83" x2="460.2" y2="473.83" stroke="#000" stroke-width="1.15" />
<line x1="53.5" y1="475.74" x2="57.1" y2="475.74" stroke="#000" stroke-width="1.15" />
<line x1="463.8" y1="475.74" x2="460.2" y2="475.74" stroke="#000" stroke-width="1.15" />
<line x1="53.5" y1="477.64" x2="57.1" y2="477.64" stroke="#000" stroke-width="1.15" />
<line x1="463.8" y1="477.64" x2="460.2" y2="477.64" stroke="#000" stroke-width="1.15" />
<line x1="53.5" y1="479.54" x2="57.1" y2="479.54" stroke="#000" stroke-width="1.15" />
<line x1="463.8" y1="479.54" x2="460.2" y2="479.54" stroke="#000" stroke-width="1.15" />
<line x1="53.5" y1="481.45" x2="61.5" y2="481.45" stroke="#000" stroke-width="1.15" />
<line x1="463.8" y1="481.45" x2="455.8" y2="481.45" stroke="#000" stroke-width="1.15" />
<line x1="53.5" y1="483.36" x2="57.1" y2="483.36" stroke="#000" stroke-width="1.15" />
<line x1="463.8" y1="483.36" x2="460.2" y2="483.36" stroke="#000" stroke-width="1.15" />
<line x1="53.5" y1="485.26" x2="57.1" y2="485.26" stroke="#000" stroke-width="1.15" />
<line x1="463.8" y1="485.26" x2="460.2" y2="485.26" stroke="#000" stroke-width="1.15" />
<line x1="53.5" y1="487.17" x2="57.1" y2="487.17" stroke="#000" stroke-width="1.15" />
<line x1="463.8" y1="487.17" x2="460.2" y2="487.17" stroke="#000" stroke-width="1.15" />
<line x1="53.5" y1="489.07" x2="57.1" y2="489.07" stroke="#000" stroke-width="1.15" />
<line x1="463.8" y1="489.07" x2="460.2" y2="489.07" stroke="#000" stroke-width="1.15" />
<line x1="53.5" y1="490.98" x2="57.1" y2="490.98" stroke="#000" stroke-width="1.15" />
<line x1="463.8" y1="490.98" x2="460.2" y2="490.98" stroke="#000" stroke-width="1.15" />
<line x1="53.5" y1="492.88" x2="57.1" y2="492.88" stroke="#000" stroke-width="1.15" />
<line x1="463.8" y1="492.88" x2="460.2" y2="492.88" stroke="#000" stroke-width="1.15" />
<line x1="53.5" y1="494.79" x2="57.1" y2="494.79" stroke="#000" stroke-width="1.15" />
<line x1="463.8" y1="494.79" x2="460.2" y2="494.79" stroke="#000" stroke-width="1.15" />
<line x1="53.5" y1="496.69" x2="57.1" y2="496.69" stroke="#000" stroke-width="1.15" />
<line x1="463.8" y1="496.69" x2="460.2" y2="496.69" stroke="#000" stroke-width="1.15" />
<line x1="53.5" y1="498.6" x2="57.1" y2="498.6" stroke="#000" stroke-width="1.15" />
<line x1="463.8" y1="498.6" x2="460.2" y2="498.6" stroke="#000" stroke-width="1.15" />
<line x1="53.5" y1="500.5" x2="61.5" y2="500.5" stroke="#000" stroke-width="1.15" />
<line x1="463.8" y1="500.5" x2="455.8" y2="500.5" stroke="#000" stroke-width="1.15" />
<line x1="53.5" y1="502.41" x2="57.1" y2="502.41" stroke="#000" stroke-width="1.15" />
<line x1="463.8" y1="502.41" x2="460.2" y2="502.41" stroke="#000" stroke-width="1.15" />
<line x1="53.5" y1="504.31" x2="57.1" y2="504.31" stroke="#000" stroke-width="1.15" />
<line x1="463.8" y1="504.31" x2="460.2" y2="504.31" stroke="#000" stroke-width="1.15" />
<line x1="53.5" y1="506.22" x2="57.1" y2="506.22" stroke="#000" stroke-width="1.15" />
<line x1="463.8" y1="506.22" x2="460.2" y2="506.22" stroke="#000" stroke-width="1.15" />
<line x1="53.5" y1="508.12" x2="57.1" y2="508.12" stroke="#000" stroke-width="1.15" />
<line x1="463.8" y1="508.12" x2="460.2" y2="508.12" stroke="#000" stroke-width="1.15" />
<line x1="53.5" y1="510.02" x2="57.1" y2="510.02" stroke="#000" stroke-width="1.15" />
<line x1="463.8" y1="510.02" x2="460.2" y2="510.02" stroke="#000" stroke-width="1.15" />
<line x1="53.5" y1="511.93" x2="57.1" y2="511.93" stroke="#000" stroke-width="1.15" />
<line x1="463.8" y1="511.93" x2="460.2" y2="511.93" stroke="#000" stroke-width="1.15" />
<line x1="53.5" y1="513.84" x2="57.1" y2="513.84" stroke="#000" stroke-width="1.15" />
<line x1="463.8" y1="513.84" x2="460.2" y2="513.84" stroke="#000" stroke-width="1.15" />
<line x1="53.5" y1="515.74" x2="57.1" y2="515.74" stroke="#000" stroke-width="1.15" />
<line x1="463.8" y1="515.74" x2="460.2" y2="515.74" stroke="#000" stroke-width="1.15" />
<line x1="53.5" y1="517.65" x2="57.1" y2="517.65" stroke="#000" stroke-width="1.15" />
<line x1="463.8" y1="517.65" x2="460.2" y2="517.65" stroke="#000" stroke-width="1.15" />
<line x1="53.5" y1="519.55" x2="61.5" y2="519.55" stroke="#000" stroke-width="1.15" />
<line x1="463.8" y1="519.55" x2="455.8" y2="519.55" stroke="#000" stroke-width="1.15" />
<line x1="53.5" y1="521.46" x2="57.1" y2="521.46" stroke="#000" stroke-width="1.15" />
<line x1="463.8" y1="521.46" x2="460.2" y2="521.46" stroke="#000" stroke-width="1.15" />
<line x1="53.5" y1="523.36" x2="57.1" y2="523.36" stroke="#000" stroke-width="1.15" />
<line x1="463.8" y1="523.36" x2="460.2" y2="523.36" stroke="#000" stroke-width="1.15" />
<line x1="53.5" y1="525.27" x2="57.1" y2="525.27" stroke="#000" stroke-width="1.15" />
<line x1="463.8" y1="525.27" x2="460.2" y2="525.27" stroke="#000" stroke-width="1.15" />
<line x1="53.5" y1="527.17" x2="57.1" y2="527.17" stroke="#000" stroke-width="1.15" />
<line x1="463.8" y1="527.17" x2="460.2" y2="527.17" stroke="#000" stroke-width="1.15" />
<line x1="53.5" y1="529.08" x2="57.1" y2="529.08" stroke="#000" stroke-width="1.15" />
<line x1="463.8" y1="529.08" x2="460.2" y2="529.08" stroke="#000" stroke-width="1.15" />
<line x1="53.5" y1="530.98" x2="57.1" y2="530.98" stroke="#000" stroke-width="1.15" />
<line x1="463.8" y1="530.98" x2="460.2" y2="530.98" stroke="#000" stroke-width="1.15" />
<line x1="53.5" y1="532.89" x2="57.1" y2="532.89" stroke="#000" stroke-width="1.15" />
<line x1="463.8" y1="532.89" x2="460.2" y2="532.89" stroke="#000" stroke-width="1.15" />
<line x1="53.5" y1="534.79" x2="57.1" y2="534.79" stroke="#000" stroke-width="1.15" />
<line x1="463.8" y1="534.79" x2="460.2" y2="534.79" stroke="#000" stroke-width="1.15" />
<line x1="53.5" y1="536.7" x2="57.1" y2="536.7" stroke="#000" stroke-width="1.15" />
<line x1="463.8" y1="536.7" x2="460.2" y2="536.7" stroke="#000" stroke-width="1.15" />
<line x1="53.5" y1="538.6" x2="61.5" y2="538.6" stroke="#000" stroke-width="1.15" />
<line x1="463.8" y1="538.6" x2="455.8" y2="538.6" stroke="#000" stroke-width="1.15" />
<line x1="53.5" y1="540.5" x2="57.1" y2="540.5" stroke="#000" stroke-width="1.15" />
<line x1="463.8" y1="540.5" x2="460.2" y2="540.5" stroke="#000" stroke-width="1.15" />
<line x1="53.5" y1="542.41" x2="57.1" y2="542.41" stroke="#000" stroke-width="1.15" />
<line x1="463.8" y1="542.41" x2="460.2" y2="542.41" stroke="#000" stroke-width="1.15" />
<line x1="53.5" y1="544.31" x2="57.1" y2="544.31" stroke="#000" stroke-width="1.15" />
<line x1="463.8" y1="544.31" x2="460.2" y2="544.31" stroke="#000" stroke-width="1.15" />
<line x1="53.5" y1="546.22" x2="57.1" y2="546.22" stroke="#000" stroke-width="1.15" />
<line x1="463.8" y1="546.22" x2="460.2" y2="546.22" stroke="#000" stroke-width="1.15" />
<line x1="53.5" y1="548.13" x2="57.1" y2="548.13" stroke="#000" stroke-width="1.15" />
<line x1="463.8" y1="548.13" x2="460.2" y2="548.13" stroke="#000" stroke-width="1.15" />
<line x1="53.5" y1="550.03" x2="57.1" y2="550.03" stroke="#000" stroke-width="1.15" />
<line x1="463.8" y1="550.03" x2="460.2" y2="550.03" stroke="#000" stroke-width="1.15" />
<line x1="53.5" y1="551.94" x2="57.1" y2="551.94" stroke="#000" stroke-width="1.15" />
<line x1="463.8" y1="551.94" x2="460.2" y2="551.94" stroke="#000" stroke-width="1.15" />
<line x1="53.5" y1="553.84" x2="57.1" y2="553.84" stroke="#000" stroke-width="1.15" />
<line x1="463.8" y1="553.84" x2="460.2" y2="553.84" stroke="#000" stroke-width="1.15" />
<line x1="53.5" y1="555.75" x2="57.1" y2="555.75" stroke="#000" stroke-width="1.15" />
<line x1="463.8" y1="555.75" x2="460.2" y2="555.75" stroke="#000" stroke-width="1.15" />
<line x1="53.5" y1="557.65" x2="61.5" y2="557.65" stroke="#000" stroke-width="1.15" />
<line x1="463.8" y1="557.65" x2="455.8" y2="557.65" stroke="#000" stroke-width="1.15" />
<line x1="53.5" y1="559.56" x2="57.1" y2="559.56" stroke="#000" stroke-width="1.15" />
<line x1="463.8" y1="559.56" x2="460.2" y2="559.56" stroke="#000" stroke-width="1.15" />
<line x1="53.5" y1="561.46" x2="57.1" y2="561.46" stroke="#000" stroke-width="1.15" />
<line x1="463.8" y1="561.46" x2="460.2" y2="561.46" stroke="#000" stroke-width="1.15" />
<line x1="53.5" y1="563.37" x2="57.1" y2="563.37" stroke="#000" stroke-width="1.15" />
<line x1="463.8" y1="563.37" x2="460.2" y2="563.37" stroke="#000" stroke-width="1.15" />
<line x1="53.5" y1="565.27" x2="57.1" y2="565.27" stroke="#000" stroke-width="1.15" />
<line x1="463.8" y1="565.27" x2="460.2" y2="565.27" stroke="#000" stroke-width="1.15" />
<line x1="53.5" y1="567.18" x2="57.1" y2="567.18" stroke="#000" stroke-width="1.15" />
<line x1="463.8" y1="567.18" x2="460.2" y2="567.18" stroke="#000" stroke-width="1.15" />
<line x1="53.5" y1="569.08" x2="57.1" y2="569.08" stroke="#000" stroke-width="1.15" />
<line x1="463.8" y1="569.08" x2="460.2" y2="569.08" stroke="#000" stroke-width="1.15" />
<line x1="53.5" y1="570.99" x2="57.1" y2="570.99" stroke="#000" stroke-width="1.15" />
<line x1="463.8" y1="570.99" x2="460.2" y2="570.99" stroke="#000" stroke-width="1.15" />
<line x1="53.5" y1="572.89" x2="57.1" y2="572.89" stroke="#000" stroke-width="1.15" />
<line x1="463.8" y1="572.89" x2="460.2" y2="572.89" stroke="#000" stroke-width="1.15" />
<line x1="53.5" y1="574.79" x2="57.1" y2="574.79" stroke="#000" stroke-width="1.15" />
<line x1="463.8" y1="574.79" x2="460.2" y2="574.79" stroke="#000" stroke-width="1.15" />
<line x1="74.02" y1="455.5" x2="74.02" y2="456.8" stroke="#000" stroke-width="1.0" />
<line x1="74.02" y1="576" x2="74.02" y2="574.7" stroke="#000" stroke-width="1.0" />
<line x1="94.53" y1="455.5" x2="94.53" y2="456.8" stroke="#000" stroke-width="1.0" />
<line x1="94.53" y1="576" x2="94.53" y2="574.7" stroke="#000" stroke-width="1.0" />
<line x1="115.05" y1="455.5" x2="115.05" y2="456.8" stroke="#000" stroke-width="1.0" />
<line x1="115.05" y1="576" x2="115.05" y2="574.7" stroke="#000" stroke-width="1.0" />
<line x1="135.56" y1="455.5" x2="135.56" y2="458.5" stroke="#000" stroke-width="1.0" />
<line x1="135.56" y1="576" x2="135.56" y2="573" stroke="#000" stroke-width="1.0" />
<line x1="156.07" y1="455.5" x2="156.07" y2="456.8" stroke="#000" stroke-width="1.0" />
<line x1="156.07" y1="576" x2="156.07" y2="574.7" stroke="#000" stroke-width="1.0" />
<line x1="176.59" y1="455.5" x2="176.59" y2="456.8" stroke="#000" stroke-width="1.0" />
<line x1="176.59" y1="576" x2="176.59" y2="574.7" stroke="#000" stroke-width="1.0" />
<line x1="197.11" y1="455.5" x2="197.11" y2="456.8" stroke="#000" stroke-width="1.0" />
<line x1="197.11" y1="576" x2="197.11" y2="574.7" stroke="#000" stroke-width="1.0" />
<line x1="217.62" y1="455.5" x2="217.62" y2="458.5" stroke="#000" stroke-width="1.0" />
<line x1="217.62" y1="576" x2="217.62" y2="573" stroke="#000" stroke-width="1.0" />
<line x1="238.14" y1="455.5" x2="238.14" y2="456.8" stroke="#000" stroke-width="1.0" />
<line x1="238.14" y1="576" x2="238.14" y2="574.7" stroke="#000" stroke-width="1.0" />
<line x1="258.65" y1="455.5" x2="258.65" y2="456.8" stroke="#000" stroke-width="1.0" />
<line x1="258.65" y1="576" x2="258.65" y2="574.7" stroke="#000" stroke-width="1.0" />
<line x1="279.17" y1="455.5" x2="279.17" y2="456.8" stroke="#000" stroke-width="1.0" />
<line x1="279.17" y1="576" x2="279.17" y2="574.7" stroke="#000" stroke-width="1.0" />
<line x1="299.68" y1="455.5" x2="299.68" y2="458.5" stroke="#000" stroke-width="1.0" />
<line x1="299.68" y1="576" x2="299.68" y2="573" stroke="#000" stroke-width="1.0" />
<line x1="320.19" y1="455.5" x2="320.19" y2="456.8" stroke="#000" stroke-width="1.0" />
<line x1="320.19" y1="576" x2="320.19" y2="574.7" stroke="#000" stroke-width="1.0" />
<line x1="340.71" y1="455.5" x2="340.71" y2="456.8" stroke="#000" stroke-width="1.0" />
<line x1="340.71" y1="576" x2="340.71" y2="574.7" stroke="#000" stroke-width="1.0" />
<line x1="361.23" y1="455.5" x2="361.23" y2="456.8" stroke="#000" stroke-width="1.0" />
<line x1="361.23" y1="576" x2="361.23" y2="574.7" stroke="#000" stroke-width="1.0" />
<line x1="381.74" y1="455.5" x2="381.74" y2="458.5" stroke="#000" stroke-width="1.0" />
<line x1="381.74" y1="576" x2="381.74" y2="573" stroke="#000" stroke-width="1.0" />
<line x1="402.26" y1="455.5" x2="402.26" y2="456.8" stroke="#000" stroke-width="1.0" />
<line x1="402.26" y1="576" x2="402.26" y2="574.7" stroke="#000" stroke-width="1.0" />
<line x1="422.77" y1="455.5" x2="422.77" y2="456.8" stroke="#000" stroke-width="1.0" />
<line x1="422.77" y1="576" x2="422.77" y2="574.7" stroke="#000" stroke-width="1.0" />
<line x1="443.29" y1="455.5" x2="443.29" y2="456.8" stroke="#000" stroke-width="1.0" />
<line x1="443.29" y1="576" x2="443.29" y2="574.7" stroke="#000" stroke-width="1.0" />
<g fill="none" stroke="#444" stroke-width="0.8"><circle cx="87.9" cy="578.2" r="2.4"/><circle cx="123.8" cy="582.4" r="2.4"/><circle cx="66.1" cy="589.2" r="2.4"/><circle cx="66.7" cy="599.3" r="2.4"/><circle cx="90.6" cy="596.6" r="2.4"/><circle cx="98.5" cy="596.1" r="2.4"/><circle cx="99.5" cy="593.6" r="2.4"/><circle cx="109.7" cy="594" r="2.4"/><circle cx="120.2" cy="598.3" r="2.4"/><circle cx="116.8" cy="601.8" r="2.4"/><circle cx="85.1" cy="603.5" r="2.4"/><circle cx="84.3" cy="607.8" r="2.4"/><circle cx="66.7" cy="608.8" r="2.4"/><circle cx="61" cy="611.4" r="2.4"/><circle cx="61.5" cy="614.1" r="2.4"/><circle cx="65.7" cy="615.2" r="2.4"/><circle cx="66.7" cy="617.3" r="2.4"/><circle cx="86.4" cy="609.9" r="2.4"/><circle cx="90" cy="609.2" r="2.4"/><circle cx="94.9" cy="612.6" r="2.4"/><circle cx="121.1" cy="606.7" r="2.4"/><circle cx="119.6" cy="611.4" r="2.4"/><circle cx="113.9" cy="613.1" r="2.4"/><circle cx="108.4" cy="615.2" r="2.4"/><circle cx="116.8" cy="616.2" r="2.4"/><circle cx="121.1" cy="618.3" r="2.4"/><circle cx="127" cy="609.2" r="2.4"/><circle cx="128.1" cy="610.5" r="2.4"/><circle cx="130.8" cy="605.7" r="2.4"/><circle cx="133.3" cy="611.4" r="2.4"/><circle cx="129.5" cy="613.5" r="2.4"/><circle cx="132.9" cy="616.2" r="2.4"/><circle cx="137.1" cy="606.3" r="2.4"/><circle cx="138.6" cy="605.7" r="2.4"/><circle cx="141.8" cy="603.1" r="2.4"/><circle cx="143.5" cy="618.3" r="2.4"/><circle cx="150.3" cy="619.4" r="2.4"/><circle cx="152.4" cy="615.2" r="2.4"/><circle cx="54.1" cy="622.6" r="2.4"/><circle cx="68.9" cy="622.6" r="2.4"/><circle cx="76.3" cy="620" r="2.4"/><circle cx="85.1" cy="619.4" r="2.4"/><circle cx="97.8" cy="621.5" r="2.4"/><circle cx="104.8" cy="621.1" r="2.4"/><circle cx="71" cy="627.9" r="2.4"/><circle cx="80.1" cy="626.8" r="2.4"/><circle cx="78.4" cy="630.4" r="2.4"/><circle cx="87.9" cy="626.8" r="2.4"/><circle cx="90.6" cy="630.6" r="2.4"/><circle cx="109.7" cy="625.3" r="2.4"/><circle cx="111.8" cy="626.2" r="2.4"/><circle cx="116" cy="623.2" r="2.4"/><circle cx="137.6" cy="626.8" r="2.4"/><circle cx="106.9" cy="634.6" r="2.4"/><circle cx="116" cy="633.1" r="2.4"/><circle cx="125.9" cy="631.7" r="2.4"/><circle cx="120.7" cy="642.7" r="2.4"/><circle cx="182.1" cy="581.3" r="2.4"/><circle cx="227.8" cy="578.8" r="2.4"/><circle cx="168.6" cy="598.3" r="2.4"/><circle cx="163.1" cy="605.7" r="2.4"/><circle cx="166.5" cy="608.4" r="2.4"/><circle cx="175.4" cy="607.8" r="2.4"/><circle cx="186.4" cy="604.2" r="2.4"/><circle cx="183.4" cy="609.2" r="2.4"/><circle cx="188.1" cy="608.4" r="2.4"/><circle cx="194" cy="607.1" r="2.4"/><circle cx="191.9" cy="611.4" r="2.4"/><circle cx="182.8" cy="613.5" r="2.4"/><circle cx="184.9" cy="616.2" r="2.4"/><circle cx="192.3" cy="617.3" r="2.4"/><circle cx="194.4" cy="616.9" r="2.4"/><circle cx="198.2" cy="617.3" r="2.4"/><circle cx="200.7" cy="618.3" r="2.4"/><circle cx="200.3" cy="609.9" r="2.4"/><circle cx="201.8" cy="613.1" r="2.4"/><circle cx="206" cy="614.7" r="2.4"/><circle cx="206.7" cy="602.1" r="2.4"/><circle cx="210.3" cy="610.9" r="2.4"/><circle cx="215.1" cy="607.1" r="2.4"/><circle cx="218.1" cy="600.8" r="2.4"/><circle cx="218.7" cy="606.3" r="2.4"/><circle cx="222.3" cy="602.5" r="2.4"/><circle cx="224" cy="608.8" r="2.4"/><circle cx="222.9" cy="612" r="2.4"/><circle cx="220.2" cy="616.2" r="2.4"/><circle cx="220.8" cy="618.3" r="2.4"/><circle cx="227.2" cy="614.1" r="2.4"/><circle cx="229.3" cy="604.6" r="2.4"/><circle cx="237.7" cy="603.5" r="2.4"/><circle cx="245.6" cy="600.8" r="2.4"/><circle cx="248.3" cy="602.5" r="2.4"/><circle cx="239.2" cy="612.6" r="2.4"/><circle cx="246.2" cy="613.1" r="2.4"/><circle cx="247.3" cy="616.2" r="2.4"/><circle cx="247.7" cy="620.5" r="2.4"/><circle cx="155.3" cy="617.3" r="2.4"/><circle cx="158.9" cy="620.5" r="2.4"/><circle cx="170.7" cy="618.3" r="2.4"/><circle cx="160.6" cy="627.9" r="2.4"/><circle cx="176.4" cy="625.7" r="2.4"/><circle cx="190.2" cy="627.4" r="2.4"/><circle cx="194.4" cy="623.2" r="2.4"/><circle cx="206.7" cy="619.8" r="2.4"/><circle cx="216.6" cy="622.6" r="2.4"/><circle cx="242" cy="625.7" r="2.4"/><circle cx="233.5" cy="635.9" r="2.4"/><circle cx="257.7" cy="584.5" r="2.4"/><circle cx="260.2" cy="585.6" r="2.4"/><circle cx="256" cy="604.6" r="2.4"/><circle cx="271.4" cy="596.6" r="2.4"/><circle cx="272.1" cy="603.5" r="2.4"/><circle cx="280.9" cy="607.1" r="2.4"/><circle cx="289.4" cy="606.7" r="2.4"/><circle cx="296.8" cy="601.4" r="2.4"/><circle cx="301.7" cy="607.1" r="2.4"/><circle cx="302.5" cy="609.9" r="2.4"/><circle cx="306.3" cy="611.4" r="2.4"/><circle cx="309.5" cy="606.7" r="2.4"/><circle cx="312.2" cy="607.8" r="2.4"/><circle cx="319" cy="603.5" r="2.4"/><circle cx="323.2" cy="598.7" r="2.4"/><circle cx="320.7" cy="607.1" r="2.4"/><circle cx="329.1" cy="589.4" r="2.4"/><circle cx="330.6" cy="593.6" r="2.4"/><circle cx="333.4" cy="593.6" r="2.4"/><circle cx="340.6" cy="586" r="2.4"/><circle cx="334.9" cy="600.4" r="2.4"/><circle cx="329.1" cy="604.6" r="2.4"/><circle cx="335.5" cy="604.2" r="2.4"/><circle cx="339.1" cy="604.6" r="2.4"/><circle cx="342.3" cy="607.8" r="2.4"/><circle cx="331.3" cy="611.4" r="2.4"/><circle cx="323.2" cy="614.1" r="2.4"/><circle cx="321.5" cy="615.2" r="2.4"/><circle cx="342.7" cy="613.5" r="2.4"/><circle cx="248.8" cy="614.1" r="2.4"/><circle cx="251.8" cy="613.5" r="2.4"/><circle cx="255.1" cy="615.2" r="2.4"/><circle cx="251.3" cy="618.3" r="2.4"/><circle cx="294.7" cy="613.1" r="2.4"/><circle cx="287.3" cy="615.6" r="2.4"/><circle cx="291.1" cy="620.5" r="2.4"/><circle cx="296.8" cy="619.4" r="2.4"/><circle cx="301.7" cy="619" r="2.4"/><circle cx="306.7" cy="617.3" r="2.4"/><circle cx="270" cy="618.3" r="2.4"/><circle cx="273.5" cy="622.6" r="2.4"/><circle cx="276.3" cy="624" r="2.4"/><circle cx="269.3" cy="625.3" r="2.4"/><circle cx="270.4" cy="626.8" r="2.4"/><circle cx="260.2" cy="624" r="2.4"/><circle cx="272.1" cy="630.4" r="2.4"/><circle cx="274.2" cy="631.7" r="2.4"/><circle cx="282.6" cy="628.3" r="2.4"/><circle cx="316.9" cy="620.5" r="2.4"/><circle cx="310.5" cy="628.3" r="2.4"/><circle cx="327.9" cy="625.7" r="2.4"/><circle cx="330" cy="625.3" r="2.4"/><circle cx="331.7" cy="625.7" r="2.4"/><circle cx="340.1" cy="625.3" r="2.4"/><circle cx="342.7" cy="626.8" r="2.4"/><circle cx="314.8" cy="635.3" r="2.4"/><circle cx="320.1" cy="638" r="2.4"/><circle cx="318.6" cy="642.7" r="2.4"/><circle cx="333.8" cy="638" r="2.4"/><circle cx="342.3" cy="634.2" r="2.4"/><circle cx="266.6" cy="639.5" r="2.4"/><circle cx="392.4" cy="586" r="2.4"/><circle cx="425" cy="583" r="2.4"/><circle cx="403" cy="592.3" r="2.4"/><circle cx="418.6" cy="593" r="2.4"/><circle cx="365.8" cy="595.1" r="2.4"/><circle cx="371.3" cy="595.7" r="2.4"/><circle cx="373.8" cy="596.1" r="2.4"/><circle cx="379.7" cy="597.2" r="2.4"/><circle cx="359.5" cy="597.2" r="2.4"/><circle cx="362.8" cy="600.4" r="2.4"/><circle cx="378.5" cy="600" r="2.4"/><circle cx="402.4" cy="600.4" r="2.4"/><circle cx="416.1" cy="600.4" r="2.4"/><circle cx="417.2" cy="602.9" r="2.4"/><circle cx="415.7" cy="604.2" r="2.4"/><circle cx="431.3" cy="600" r="2.4"/><circle cx="437.7" cy="601.4" r="2.4"/><circle cx="341.1" cy="604.6" r="2.4"/><circle cx="346.8" cy="606.7" r="2.4"/><circle cx="356.5" cy="604.6" r="2.4"/><circle cx="357.3" cy="606.3" r="2.4"/><circle cx="367.9" cy="603.5" r="2.4"/><circle cx="368.5" cy="606.7" r="2.4"/><circle cx="372.8" cy="606.7" r="2.4"/><circle cx="373.8" cy="609.2" r="2.4"/><circle cx="379.7" cy="606.3" r="2.4"/><circle cx="386.9" cy="602.5" r="2.4"/><circle cx="385.5" cy="607.1" r="2.4"/><circle cx="390.3" cy="608.4" r="2.4"/><circle cx="393.3" cy="603.5" r="2.4"/><circle cx="409.3" cy="604.6" r="2.4"/><circle cx="352.7" cy="609.2" r="2.4"/><circle cx="358.6" cy="608.4" r="2.4"/><circle cx="351.6" cy="615.6" r="2.4"/><circle cx="384" cy="611.4" r="2.4"/><circle cx="375.9" cy="615.6" r="2.4"/><circle cx="399.2" cy="612" r="2.4"/><circle cx="406" cy="613.5" r="2.4"/><circle cx="430.5" cy="611.4" r="2.4"/><circle cx="362.8" cy="618.3" r="2.4"/><circle cx="344.7" cy="621.5" r="2.4"/><circle cx="348" cy="620.5" r="2.4"/><circle cx="401.7" cy="620.5" r="2.4"/><circle cx="408.7" cy="621.5" r="2.4"/><circle cx="412.3" cy="619.8" r="2.4"/><circle cx="419.3" cy="619.8" r="2.4"/><circle cx="421.4" cy="621.1" r="2.4"/><circle cx="357.3" cy="624.7" r="2.4"/><circle cx="369.6" cy="626.2" r="2.4"/><circle cx="433" cy="625.3" r="2.4"/><circle cx="348.5" cy="631" r="2.4"/><circle cx="360.7" cy="634.6" r="2.4"/><circle cx="365" cy="634.6" r="2.4"/><circle cx="375.5" cy="631.7" r="2.4"/><circle cx="380.2" cy="631.7" r="2.4"/><circle cx="379.1" cy="637.4" r="2.4"/><circle cx="388.2" cy="634.6" r="2.4"/><circle cx="396.7" cy="633.8" r="2.4"/><circle cx="397.1" cy="637.4" r="2.4"/><circle cx="412.9" cy="634.2" r="2.4"/><circle cx="353.7" cy="638.4" r="2.4"/><circle cx="431.3" cy="638.8" r="2.4"/><circle cx="398.8" cy="645.8" r="2.4"/><circle cx="452.5" cy="592.8" r="2.4"/><circle cx="451.1" cy="620.1" r="2.4"/><circle cx="454.5" cy="617.9" r="2.4"/></g>
<line x1="53.5" y1="594.1" x2="61" y2="594.1" stroke="#000" stroke-width="1.3" />
<line x1="463.8" y1="594.1" x2="456.3" y2="594.1" stroke="#000" stroke-width="1.3" />
<line x1="53.5" y1="611.9" x2="61" y2="611.9" stroke="#000" stroke-width="1.3" />
<line x1="463.8" y1="611.9" x2="456.3" y2="611.9" stroke="#000" stroke-width="1.3" />
<line x1="53.5" y1="629.7" x2="61" y2="629.7" stroke="#000" stroke-width="1.3" />
<line x1="463.8" y1="629.7" x2="456.3" y2="629.7" stroke="#000" stroke-width="1.3" />
<line x1="135.56" y1="576" x2="135.56" y2="578.8" stroke="#000" stroke-width="1.0" />
<line x1="135.56" y1="647.6" x2="135.56" y2="645.4" stroke="#000" stroke-width="1.0" />
<line x1="217.62" y1="576" x2="217.62" y2="578.8" stroke="#000" stroke-width="1.0" />
<line x1="217.62" y1="647.6" x2="217.62" y2="645.4" stroke="#000" stroke-width="1.0" />
<line x1="299.68" y1="576" x2="299.68" y2="578.8" stroke="#000" stroke-width="1.0" />
<line x1="299.68" y1="647.6" x2="299.68" y2="645.4" stroke="#000" stroke-width="1.0" />
<line x1="381.74" y1="576" x2="381.74" y2="578.8" stroke="#000" stroke-width="1.0" />
<line x1="381.74" y1="647.6" x2="381.74" y2="645.4" stroke="#000" stroke-width="1.0" />
<rect x="53.5" y="455.5" width="410.3" height="192.1" fill="none" stroke="#000" stroke-width="1.5"/>
<line x1="53.5" y1="576" x2="463.8" y2="576" stroke="#000" stroke-width="1.5" />
<text transform="translate(161.63,12.47) scale(1.0153,0.9018)" font-size="20.3">55.819122 +23.833723</text>
<text transform="translate(20.69,68.64) scale(1.0447,1.0286)" font-size="15.5">16.4</text>
<text transform="translate(20.68,117.14) scale(1.0549,1.0286)" font-size="15.5">16.6</text>
<text transform="translate(20.67,165.64) scale(1.0653,1.0286)" font-size="15.5">16.8</text>
<text transform="translate(20.67,214.14) scale(1.0653,1.0286)" font-size="15.5">17.0</text>
<text transform="translate(58.07,230.85) scale(1.0697,1.0537)" font-size="15.5">950</text>
<text transform="translate(139.05,230.85) scale(1.0598,1.0537)" font-size="15.5">1000</text>
<text transform="translate(224.43,230.85) scale(1.0598,1.0537)" font-size="15.5">1050</text>
<text transform="translate(310.09,230.85) scale(1.0667,1.0537)" font-size="15.5">1100</text>
<text transform="translate(395.09,230.85) scale(1.0912,1.0537)" font-size="15.5">1150</text>
<text transform="translate(226.09,250.87) scale(1.0185,0.9517)" font-size="16">Epoch (d)</text>
<text transform="translate(11.57,152.2) rotate(-90) scale(1.0333,0.9793)" font-size="16"><tspan font-weight="bold" font-style="italic">R</tspan><tspan font-size="9.8" dy="3.4">PTF</tspan><tspan dy="-3.4"> (mag)</tspan></text>
<text transform="translate(24.66,278.9) scale(1.0698,1.0537)" font-size="15.5">120</text>
<text transform="translate(24.66,296.7) scale(1.0698,1.0537)" font-size="15.5">100</text>
<text transform="translate(32.97,318.26) scale(1.0690,1.0537)" font-size="15.5">80</text>
<text transform="translate(32.68,339.1) scale(1.0877,1.0537)" font-size="15.5">60</text>
<text transform="translate(33.24,360.73) scale(1.0508,1.0537)" font-size="15.5">40</text>
<text transform="translate(32.68,382) scale(1.0877,1.0537)" font-size="15.5">20</text>
<text transform="translate(41.27,398.6) scale(1.0667,1.0537)" font-size="15.5">0</text>
<text transform="translate(42.66,413.84) scale(1.0889,1.0286)" font-size="15.5">0.1</text>
<text transform="translate(208.13,413.84) scale(1.0971,1.0286)" font-size="15.5">1.0</text>
<text transform="translate(369.54,413.84) scale(1.0891,1.0286)" font-size="15.5">10.0</text>
<text transform="translate(213.29,433.05) scale(1.0296,0.9862)" font-size="16">Period (days)</text>
<text transform="translate(18.14,355.52) rotate(-90) scale(1.0385,1.0419)" font-size="16">Power</text>
<text transform="translate(20.69,467.44) scale(1.0447,1.0286)" font-size="15.5">16.4</text>
<text transform="translate(20.67,486.49) scale(1.0653,1.0286)" font-size="15.5">16.5</text>
<text transform="translate(20.68,505.54) scale(1.0549,1.0286)" font-size="15.5">16.6</text>
<text transform="translate(20.68,524.59) scale(1.0549,1.0286)" font-size="15.5">16.7</text>
<text transform="translate(20.67,543.64) scale(1.0653,1.0286)" font-size="15.5">16.8</text>
<text transform="translate(20.67,562.69) scale(1.0653,1.0286)" font-size="15.5">16.9</text>
<text transform="translate(11.77,549.2) rotate(-90) scale(1.0333,0.9793)" font-size="16"><tspan font-weight="bold" font-style="italic">R</tspan><tspan font-size="9.8" dy="3.4">PTF</tspan><tspan dy="-3.4"> (mag)</tspan></text>
<text transform="translate(15.28,585.14) scale(1.0496,1.0286)" font-size="15.5">-0.06</text>
<text transform="translate(15.28,599.34) scale(1.0496,1.0286)" font-size="15.5">-0.03</text>
<text transform="translate(20.67,616.94) scale(1.0538,1.0286)" font-size="15.5">0.00</text>
<text transform="translate(20.67,634.74) scale(1.0538,1.0286)" font-size="15.5">0.03</text>
<text transform="translate(20.68,647.74) scale(1.0438,1.0286)" font-size="15.5">0.06</text>
<text transform="translate(43.06,661.74) scale(1.0849,1.0286)" font-size="15.5">0.0</text>
<text transform="translate(125.11,661.74) scale(1.1000,1.0286)" font-size="15.5">0.2</text>
<text transform="translate(207.19,661.74) scale(1.0560,1.0286)" font-size="15.5">0.4</text>
<text transform="translate(289.24,661.74) scale(1.0703,1.0286)" font-size="15.5">0.6</text>
<text transform="translate(371.3,661.74) scale(1.0849,1.0286)" font-size="15.5">0.8</text>
<text transform="translate(452.49,661.74) scale(1.1314,1.0286)" font-size="15.5">1.0</text>
<text transform="translate(176.88,681.15) scale(1.0384,0.9862)" font-size="16">Phase (<tspan font-weight="bold" font-style="italic">P</tspan><tspan font-size="11" dy="3.6">rot</tspan><tspan dy="-3.6"> = 0.770 days)</tspan></text>
</svg>
</body></html>
